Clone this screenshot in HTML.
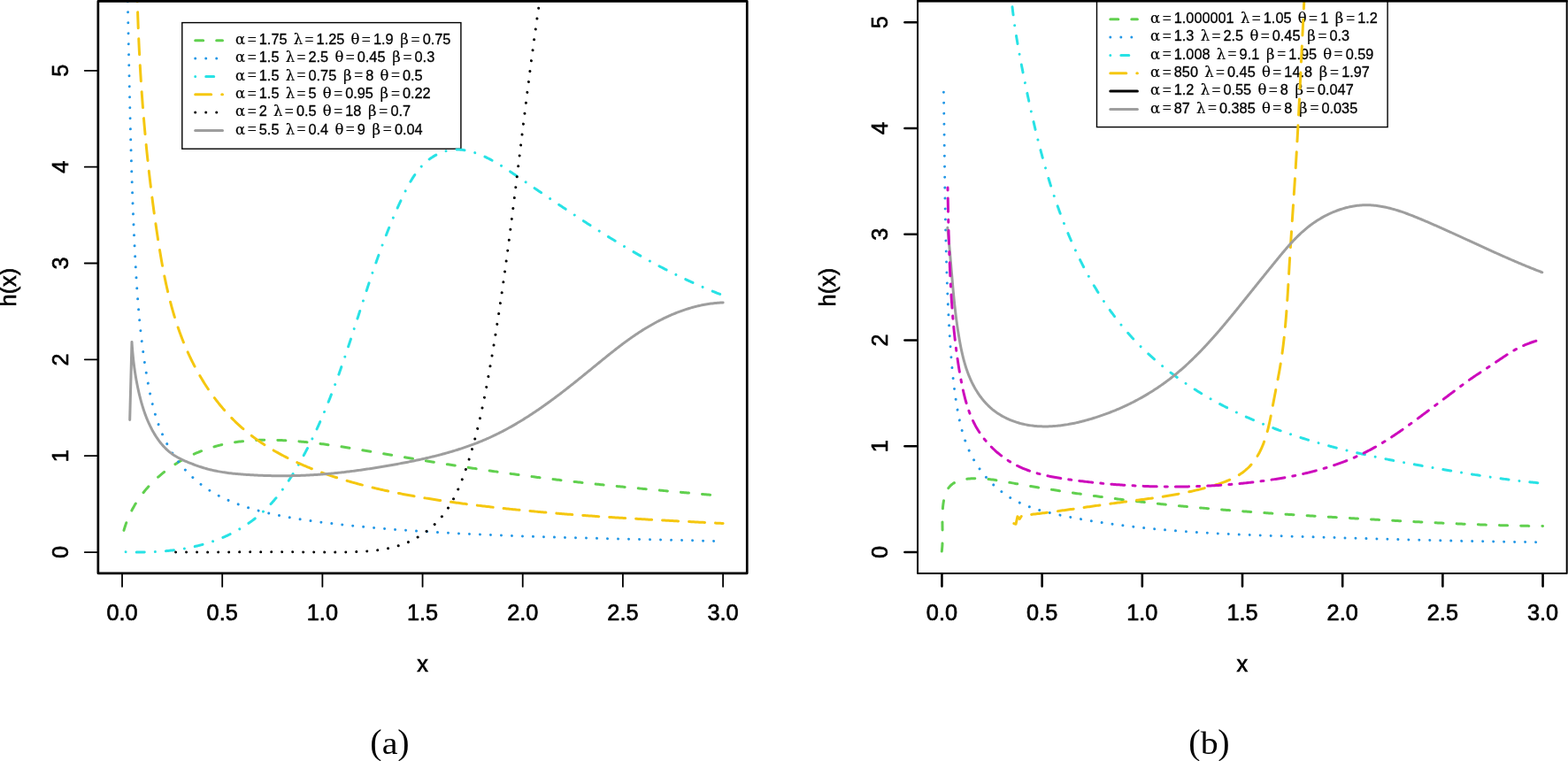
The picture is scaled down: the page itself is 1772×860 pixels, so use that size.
<!DOCTYPE html><html><head><meta charset="utf-8"><title>h(x) hazard plots</title><style>html,body{margin:0;padding:0;background:#fff;overflow:hidden}svg{display:block}</style></head><body>
<svg width="1772" height="860" viewBox="0 0 1772 860">
<rect width="1772" height="860" fill="#fff"/>
<defs><clipPath id="ca"><rect x="110.87" y="1.43" width="733.38" height="646.37"/></clipPath><clipPath id="cb"><rect x="1037.05" y="1.25" width="733.65" height="646.75"/></clipPath></defs>
<rect x="205.80" y="25.60" width="315.10" height="142.60" fill="none" stroke="#000" stroke-width="1.4"/>
<line x1="220.70" y1="45.80" x2="251.50" y2="45.80" stroke="#61D04F" stroke-width="3" stroke-linecap="round" stroke-dasharray="9 15"/>
<text x="271.47" y="50.00" text-anchor="middle" font-size="16.4" font-family="DejaVu Serif, Liberation Serif, serif" stroke="#000" stroke-width="0.2">α</text>
<text x="284.71" y="50.80" text-anchor="middle" font-size="18.5" font-family="Liberation Serif, serif">=</text>
<text x="292.80" y="50.00" font-size="16.3" font-family="Liberation Sans, Arial, sans-serif" stroke="#000" stroke-width="0.3">1.75</text>
<text x="336.93" y="50.00" text-anchor="middle" font-size="16.4" font-family="DejaVu Serif, Liberation Serif, serif" stroke="#000" stroke-width="0.2">λ</text>
<text x="349.49" y="50.80" text-anchor="middle" font-size="18.5" font-family="Liberation Serif, serif">=</text>
<text x="357.59" y="50.00" font-size="16.3" font-family="Liberation Sans, Arial, sans-serif" stroke="#000" stroke-width="0.3">1.25</text>
<text x="401.48" y="50.00" text-anchor="middle" font-size="16.4" font-family="DejaVu Serif, Liberation Serif, serif" stroke="#000" stroke-width="0.2">θ</text>
<text x="413.82" y="50.80" text-anchor="middle" font-size="18.5" font-family="Liberation Serif, serif">=</text>
<text x="421.91" y="50.00" font-size="16.3" font-family="Liberation Sans, Arial, sans-serif" stroke="#000" stroke-width="0.3">1.9</text>
<text x="456.97" y="50.00" text-anchor="middle" font-size="16.4" font-family="DejaVu Serif, Liberation Serif, serif" stroke="#000" stroke-width="0.2">β</text>
<text x="469.54" y="50.80" text-anchor="middle" font-size="18.5" font-family="Liberation Serif, serif">=</text>
<text x="477.64" y="50.00" font-size="16.3" font-family="Liberation Sans, Arial, sans-serif" stroke="#000" stroke-width="0.3">0.75</text>
<line x1="220.70" y1="66.12" x2="251.50" y2="66.12" stroke="#2297E6" stroke-width="3" stroke-linecap="round" stroke-dasharray="0.01 12"/>
<text x="271.47" y="70.32" text-anchor="middle" font-size="16.4" font-family="DejaVu Serif, Liberation Serif, serif" stroke="#000" stroke-width="0.2">α</text>
<text x="284.71" y="71.12" text-anchor="middle" font-size="18.5" font-family="Liberation Serif, serif">=</text>
<text x="292.80" y="70.32" font-size="16.3" font-family="Liberation Sans, Arial, sans-serif" stroke="#000" stroke-width="0.3">1.5</text>
<text x="327.86" y="70.32" text-anchor="middle" font-size="16.4" font-family="DejaVu Serif, Liberation Serif, serif" stroke="#000" stroke-width="0.2">λ</text>
<text x="340.43" y="71.12" text-anchor="middle" font-size="18.5" font-family="Liberation Serif, serif">=</text>
<text x="348.52" y="70.32" font-size="16.3" font-family="Liberation Sans, Arial, sans-serif" stroke="#000" stroke-width="0.3">2.5</text>
<text x="383.36" y="70.32" text-anchor="middle" font-size="16.4" font-family="DejaVu Serif, Liberation Serif, serif" stroke="#000" stroke-width="0.2">θ</text>
<text x="395.70" y="71.12" text-anchor="middle" font-size="18.5" font-family="Liberation Serif, serif">=</text>
<text x="403.79" y="70.32" font-size="16.3" font-family="Liberation Sans, Arial, sans-serif" stroke="#000" stroke-width="0.3">0.45</text>
<text x="447.91" y="70.32" text-anchor="middle" font-size="16.4" font-family="DejaVu Serif, Liberation Serif, serif" stroke="#000" stroke-width="0.2">β</text>
<text x="460.48" y="71.12" text-anchor="middle" font-size="18.5" font-family="Liberation Serif, serif">=</text>
<text x="468.57" y="70.32" font-size="16.3" font-family="Liberation Sans, Arial, sans-serif" stroke="#000" stroke-width="0.3">0.3</text>
<line x1="220.70" y1="86.44" x2="251.50" y2="86.44" stroke="#28E2E5" stroke-width="3" stroke-linecap="round" stroke-dasharray="0.01 12 9 12"/>
<text x="271.47" y="90.64" text-anchor="middle" font-size="16.4" font-family="DejaVu Serif, Liberation Serif, serif" stroke="#000" stroke-width="0.2">α</text>
<text x="284.71" y="91.44" text-anchor="middle" font-size="18.5" font-family="Liberation Serif, serif">=</text>
<text x="292.80" y="90.64" font-size="16.3" font-family="Liberation Sans, Arial, sans-serif" stroke="#000" stroke-width="0.3">1.5</text>
<text x="327.86" y="90.64" text-anchor="middle" font-size="16.4" font-family="DejaVu Serif, Liberation Serif, serif" stroke="#000" stroke-width="0.2">λ</text>
<text x="340.43" y="91.44" text-anchor="middle" font-size="18.5" font-family="Liberation Serif, serif">=</text>
<text x="348.52" y="90.64" font-size="16.3" font-family="Liberation Sans, Arial, sans-serif" stroke="#000" stroke-width="0.3">0.75</text>
<text x="392.65" y="90.64" text-anchor="middle" font-size="16.4" font-family="DejaVu Serif, Liberation Serif, serif" stroke="#000" stroke-width="0.2">β</text>
<text x="405.21" y="91.44" text-anchor="middle" font-size="18.5" font-family="Liberation Serif, serif">=</text>
<text x="413.31" y="90.64" font-size="16.3" font-family="Liberation Sans, Arial, sans-serif" stroke="#000" stroke-width="0.3">8</text>
<text x="434.55" y="90.64" text-anchor="middle" font-size="16.4" font-family="DejaVu Serif, Liberation Serif, serif" stroke="#000" stroke-width="0.2">θ</text>
<text x="446.89" y="91.44" text-anchor="middle" font-size="18.5" font-family="Liberation Serif, serif">=</text>
<text x="454.98" y="90.64" font-size="16.3" font-family="Liberation Sans, Arial, sans-serif" stroke="#000" stroke-width="0.3">0.5</text>
<line x1="220.70" y1="106.76" x2="251.50" y2="106.76" stroke="#F5C710" stroke-width="3" stroke-linecap="round" stroke-dasharray="18 12"/>
<text x="271.47" y="110.96" text-anchor="middle" font-size="16.4" font-family="DejaVu Serif, Liberation Serif, serif" stroke="#000" stroke-width="0.2">α</text>
<text x="284.71" y="111.76" text-anchor="middle" font-size="18.5" font-family="Liberation Serif, serif">=</text>
<text x="292.80" y="110.96" font-size="16.3" font-family="Liberation Sans, Arial, sans-serif" stroke="#000" stroke-width="0.3">1.5</text>
<text x="327.86" y="110.96" text-anchor="middle" font-size="16.4" font-family="DejaVu Serif, Liberation Serif, serif" stroke="#000" stroke-width="0.2">λ</text>
<text x="340.43" y="111.76" text-anchor="middle" font-size="18.5" font-family="Liberation Serif, serif">=</text>
<text x="348.52" y="110.96" font-size="16.3" font-family="Liberation Sans, Arial, sans-serif" stroke="#000" stroke-width="0.3">5</text>
<text x="369.76" y="110.96" text-anchor="middle" font-size="16.4" font-family="DejaVu Serif, Liberation Serif, serif" stroke="#000" stroke-width="0.2">θ</text>
<text x="382.10" y="111.76" text-anchor="middle" font-size="18.5" font-family="Liberation Serif, serif">=</text>
<text x="390.19" y="110.96" font-size="16.3" font-family="Liberation Sans, Arial, sans-serif" stroke="#000" stroke-width="0.3">0.95</text>
<text x="434.32" y="110.96" text-anchor="middle" font-size="16.4" font-family="DejaVu Serif, Liberation Serif, serif" stroke="#000" stroke-width="0.2">β</text>
<text x="446.89" y="111.76" text-anchor="middle" font-size="18.5" font-family="Liberation Serif, serif">=</text>
<text x="454.98" y="110.96" font-size="16.3" font-family="Liberation Sans, Arial, sans-serif" stroke="#000" stroke-width="0.3">0.22</text>
<line x1="220.70" y1="127.08" x2="251.50" y2="127.08" stroke="#000000" stroke-width="3" stroke-linecap="round" stroke-dasharray="0.01 12"/>
<text x="271.47" y="131.28" text-anchor="middle" font-size="16.4" font-family="DejaVu Serif, Liberation Serif, serif" stroke="#000" stroke-width="0.2">α</text>
<text x="284.71" y="132.08" text-anchor="middle" font-size="18.5" font-family="Liberation Serif, serif">=</text>
<text x="292.80" y="131.28" font-size="16.3" font-family="Liberation Sans, Arial, sans-serif" stroke="#000" stroke-width="0.3">2</text>
<text x="314.27" y="131.28" text-anchor="middle" font-size="16.4" font-family="DejaVu Serif, Liberation Serif, serif" stroke="#000" stroke-width="0.2">λ</text>
<text x="326.84" y="132.08" text-anchor="middle" font-size="18.5" font-family="Liberation Serif, serif">=</text>
<text x="334.93" y="131.28" font-size="16.3" font-family="Liberation Sans, Arial, sans-serif" stroke="#000" stroke-width="0.3">0.5</text>
<text x="369.76" y="131.28" text-anchor="middle" font-size="16.4" font-family="DejaVu Serif, Liberation Serif, serif" stroke="#000" stroke-width="0.2">θ</text>
<text x="382.10" y="132.08" text-anchor="middle" font-size="18.5" font-family="Liberation Serif, serif">=</text>
<text x="390.19" y="131.28" font-size="16.3" font-family="Liberation Sans, Arial, sans-serif" stroke="#000" stroke-width="0.3">18</text>
<text x="420.72" y="131.28" text-anchor="middle" font-size="16.4" font-family="DejaVu Serif, Liberation Serif, serif" stroke="#000" stroke-width="0.2">β</text>
<text x="433.29" y="132.08" text-anchor="middle" font-size="18.5" font-family="Liberation Serif, serif">=</text>
<text x="441.38" y="131.28" font-size="16.3" font-family="Liberation Sans, Arial, sans-serif" stroke="#000" stroke-width="0.3">0.7</text>
<line x1="220.70" y1="147.40" x2="251.50" y2="147.40" stroke="#9E9E9E" stroke-width="3" stroke-linecap="round"/>
<text x="271.47" y="151.60" text-anchor="middle" font-size="16.4" font-family="DejaVu Serif, Liberation Serif, serif" stroke="#000" stroke-width="0.2">α</text>
<text x="284.71" y="152.40" text-anchor="middle" font-size="18.5" font-family="Liberation Serif, serif">=</text>
<text x="292.80" y="151.60" font-size="16.3" font-family="Liberation Sans, Arial, sans-serif" stroke="#000" stroke-width="0.3">5.5</text>
<text x="327.86" y="151.60" text-anchor="middle" font-size="16.4" font-family="DejaVu Serif, Liberation Serif, serif" stroke="#000" stroke-width="0.2">λ</text>
<text x="340.43" y="152.40" text-anchor="middle" font-size="18.5" font-family="Liberation Serif, serif">=</text>
<text x="348.52" y="151.60" font-size="16.3" font-family="Liberation Sans, Arial, sans-serif" stroke="#000" stroke-width="0.3">0.4</text>
<text x="383.36" y="151.60" text-anchor="middle" font-size="16.4" font-family="DejaVu Serif, Liberation Serif, serif" stroke="#000" stroke-width="0.2">θ</text>
<text x="395.70" y="152.40" text-anchor="middle" font-size="18.5" font-family="Liberation Serif, serif">=</text>
<text x="403.79" y="151.60" font-size="16.3" font-family="Liberation Sans, Arial, sans-serif" stroke="#000" stroke-width="0.3">9</text>
<text x="425.26" y="151.60" text-anchor="middle" font-size="16.4" font-family="DejaVu Serif, Liberation Serif, serif" stroke="#000" stroke-width="0.2">β</text>
<text x="437.82" y="152.40" text-anchor="middle" font-size="18.5" font-family="Liberation Serif, serif">=</text>
<text x="445.92" y="151.60" font-size="16.3" font-family="Liberation Sans, Arial, sans-serif" stroke="#000" stroke-width="0.3">0.04</text>
<rect x="1239.50" y="1.30" width="328.60" height="142.30" fill="none" stroke="#000" stroke-width="1.4"/>
<line x1="1254.80" y1="21.80" x2="1285.40" y2="21.80" stroke="#61D04F" stroke-width="3" stroke-linecap="round" stroke-dasharray="9 15"/>
<text x="1305.44" y="26.00" text-anchor="middle" font-size="16.4" font-family="DejaVu Serif, Liberation Serif, serif" stroke="#000" stroke-width="0.2">α</text>
<text x="1318.68" y="26.80" text-anchor="middle" font-size="18.5" font-family="Liberation Serif, serif">=</text>
<text x="1326.77" y="26.00" font-size="16.3" font-family="Liberation Sans, Arial, sans-serif" stroke="#000" stroke-width="0.3">1.000001</text>
<text x="1407.15" y="26.00" text-anchor="middle" font-size="16.4" font-family="DejaVu Serif, Liberation Serif, serif" stroke="#000" stroke-width="0.2">λ</text>
<text x="1419.71" y="26.80" text-anchor="middle" font-size="18.5" font-family="Liberation Serif, serif">=</text>
<text x="1427.81" y="26.00" font-size="16.3" font-family="Liberation Sans, Arial, sans-serif" stroke="#000" stroke-width="0.3">1.05</text>
<text x="1471.70" y="26.00" text-anchor="middle" font-size="16.4" font-family="DejaVu Serif, Liberation Serif, serif" stroke="#000" stroke-width="0.2">θ</text>
<text x="1484.04" y="26.80" text-anchor="middle" font-size="18.5" font-family="Liberation Serif, serif">=</text>
<text x="1492.13" y="26.00" font-size="16.3" font-family="Liberation Sans, Arial, sans-serif" stroke="#000" stroke-width="0.3">1</text>
<text x="1513.60" y="26.00" text-anchor="middle" font-size="16.4" font-family="DejaVu Serif, Liberation Serif, serif" stroke="#000" stroke-width="0.2">β</text>
<text x="1526.17" y="26.80" text-anchor="middle" font-size="18.5" font-family="Liberation Serif, serif">=</text>
<text x="1534.26" y="26.00" font-size="16.3" font-family="Liberation Sans, Arial, sans-serif" stroke="#000" stroke-width="0.3">1.2</text>
<line x1="1254.80" y1="42.12" x2="1285.40" y2="42.12" stroke="#2297E6" stroke-width="3" stroke-linecap="round" stroke-dasharray="0.01 12"/>
<text x="1305.44" y="46.32" text-anchor="middle" font-size="16.4" font-family="DejaVu Serif, Liberation Serif, serif" stroke="#000" stroke-width="0.2">α</text>
<text x="1318.68" y="47.12" text-anchor="middle" font-size="18.5" font-family="Liberation Serif, serif">=</text>
<text x="1326.77" y="46.32" font-size="16.3" font-family="Liberation Sans, Arial, sans-serif" stroke="#000" stroke-width="0.3">1.3</text>
<text x="1361.83" y="46.32" text-anchor="middle" font-size="16.4" font-family="DejaVu Serif, Liberation Serif, serif" stroke="#000" stroke-width="0.2">λ</text>
<text x="1374.40" y="47.12" text-anchor="middle" font-size="18.5" font-family="Liberation Serif, serif">=</text>
<text x="1382.49" y="46.32" font-size="16.3" font-family="Liberation Sans, Arial, sans-serif" stroke="#000" stroke-width="0.3">2.5</text>
<text x="1417.33" y="46.32" text-anchor="middle" font-size="16.4" font-family="DejaVu Serif, Liberation Serif, serif" stroke="#000" stroke-width="0.2">θ</text>
<text x="1429.67" y="47.12" text-anchor="middle" font-size="18.5" font-family="Liberation Serif, serif">=</text>
<text x="1437.76" y="46.32" font-size="16.3" font-family="Liberation Sans, Arial, sans-serif" stroke="#000" stroke-width="0.3">0.45</text>
<text x="1481.88" y="46.32" text-anchor="middle" font-size="16.4" font-family="DejaVu Serif, Liberation Serif, serif" stroke="#000" stroke-width="0.2">β</text>
<text x="1494.45" y="47.12" text-anchor="middle" font-size="18.5" font-family="Liberation Serif, serif">=</text>
<text x="1502.54" y="46.32" font-size="16.3" font-family="Liberation Sans, Arial, sans-serif" stroke="#000" stroke-width="0.3">0.3</text>
<line x1="1254.80" y1="62.44" x2="1285.40" y2="62.44" stroke="#28E2E5" stroke-width="3" stroke-linecap="round" stroke-dasharray="0.01 12 9 12"/>
<text x="1305.44" y="66.64" text-anchor="middle" font-size="16.4" font-family="DejaVu Serif, Liberation Serif, serif" stroke="#000" stroke-width="0.2">α</text>
<text x="1318.68" y="67.44" text-anchor="middle" font-size="18.5" font-family="Liberation Serif, serif">=</text>
<text x="1326.77" y="66.64" font-size="16.3" font-family="Liberation Sans, Arial, sans-serif" stroke="#000" stroke-width="0.3">1.008</text>
<text x="1379.96" y="66.64" text-anchor="middle" font-size="16.4" font-family="DejaVu Serif, Liberation Serif, serif" stroke="#000" stroke-width="0.2">λ</text>
<text x="1392.53" y="67.44" text-anchor="middle" font-size="18.5" font-family="Liberation Serif, serif">=</text>
<text x="1400.62" y="66.64" font-size="16.3" font-family="Liberation Sans, Arial, sans-serif" stroke="#000" stroke-width="0.3">9.1</text>
<text x="1435.68" y="66.64" text-anchor="middle" font-size="16.4" font-family="DejaVu Serif, Liberation Serif, serif" stroke="#000" stroke-width="0.2">β</text>
<text x="1448.25" y="67.44" text-anchor="middle" font-size="18.5" font-family="Liberation Serif, serif">=</text>
<text x="1456.34" y="66.64" font-size="16.3" font-family="Liberation Sans, Arial, sans-serif" stroke="#000" stroke-width="0.3">1.95</text>
<text x="1500.24" y="66.64" text-anchor="middle" font-size="16.4" font-family="DejaVu Serif, Liberation Serif, serif" stroke="#000" stroke-width="0.2">θ</text>
<text x="1512.58" y="67.44" text-anchor="middle" font-size="18.5" font-family="Liberation Serif, serif">=</text>
<text x="1520.67" y="66.64" font-size="16.3" font-family="Liberation Sans, Arial, sans-serif" stroke="#000" stroke-width="0.3">0.59</text>
<line x1="1254.80" y1="82.76" x2="1285.40" y2="82.76" stroke="#F5C710" stroke-width="3" stroke-linecap="round" stroke-dasharray="18 12"/>
<text x="1305.44" y="86.96" text-anchor="middle" font-size="16.4" font-family="DejaVu Serif, Liberation Serif, serif" stroke="#000" stroke-width="0.2">α</text>
<text x="1318.68" y="87.76" text-anchor="middle" font-size="18.5" font-family="Liberation Serif, serif">=</text>
<text x="1326.77" y="86.96" font-size="16.3" font-family="Liberation Sans, Arial, sans-serif" stroke="#000" stroke-width="0.3">850</text>
<text x="1366.36" y="86.96" text-anchor="middle" font-size="16.4" font-family="DejaVu Serif, Liberation Serif, serif" stroke="#000" stroke-width="0.2">λ</text>
<text x="1378.93" y="87.76" text-anchor="middle" font-size="18.5" font-family="Liberation Serif, serif">=</text>
<text x="1387.02" y="86.96" font-size="16.3" font-family="Liberation Sans, Arial, sans-serif" stroke="#000" stroke-width="0.3">0.45</text>
<text x="1430.92" y="86.96" text-anchor="middle" font-size="16.4" font-family="DejaVu Serif, Liberation Serif, serif" stroke="#000" stroke-width="0.2">θ</text>
<text x="1443.26" y="87.76" text-anchor="middle" font-size="18.5" font-family="Liberation Serif, serif">=</text>
<text x="1451.35" y="86.96" font-size="16.3" font-family="Liberation Sans, Arial, sans-serif" stroke="#000" stroke-width="0.3">14.8</text>
<text x="1495.48" y="86.96" text-anchor="middle" font-size="16.4" font-family="DejaVu Serif, Liberation Serif, serif" stroke="#000" stroke-width="0.2">β</text>
<text x="1508.04" y="87.76" text-anchor="middle" font-size="18.5" font-family="Liberation Serif, serif">=</text>
<text x="1516.14" y="86.96" font-size="16.3" font-family="Liberation Sans, Arial, sans-serif" stroke="#000" stroke-width="0.3">1.97</text>
<line x1="1254.80" y1="103.08" x2="1285.40" y2="103.08" stroke="#000000" stroke-width="3" stroke-linecap="round"/>
<text x="1305.44" y="107.28" text-anchor="middle" font-size="16.4" font-family="DejaVu Serif, Liberation Serif, serif" stroke="#000" stroke-width="0.2">α</text>
<text x="1318.68" y="108.08" text-anchor="middle" font-size="18.5" font-family="Liberation Serif, serif">=</text>
<text x="1326.77" y="107.28" font-size="16.3" font-family="Liberation Sans, Arial, sans-serif" stroke="#000" stroke-width="0.3">1.2</text>
<text x="1361.83" y="107.28" text-anchor="middle" font-size="16.4" font-family="DejaVu Serif, Liberation Serif, serif" stroke="#000" stroke-width="0.2">λ</text>
<text x="1374.40" y="108.08" text-anchor="middle" font-size="18.5" font-family="Liberation Serif, serif">=</text>
<text x="1382.49" y="107.28" font-size="16.3" font-family="Liberation Sans, Arial, sans-serif" stroke="#000" stroke-width="0.3">0.55</text>
<text x="1426.39" y="107.28" text-anchor="middle" font-size="16.4" font-family="DejaVu Serif, Liberation Serif, serif" stroke="#000" stroke-width="0.2">θ</text>
<text x="1438.73" y="108.08" text-anchor="middle" font-size="18.5" font-family="Liberation Serif, serif">=</text>
<text x="1446.82" y="107.28" font-size="16.3" font-family="Liberation Sans, Arial, sans-serif" stroke="#000" stroke-width="0.3">8</text>
<text x="1468.29" y="107.28" text-anchor="middle" font-size="16.4" font-family="DejaVu Serif, Liberation Serif, serif" stroke="#000" stroke-width="0.2">β</text>
<text x="1480.86" y="108.08" text-anchor="middle" font-size="18.5" font-family="Liberation Serif, serif">=</text>
<text x="1488.95" y="107.28" font-size="16.3" font-family="Liberation Sans, Arial, sans-serif" stroke="#000" stroke-width="0.3">0.047</text>
<line x1="1254.80" y1="123.40" x2="1285.40" y2="123.40" stroke="#9E9E9E" stroke-width="3" stroke-linecap="round"/>
<text x="1305.44" y="127.60" text-anchor="middle" font-size="16.4" font-family="DejaVu Serif, Liberation Serif, serif" stroke="#000" stroke-width="0.2">α</text>
<text x="1318.68" y="128.40" text-anchor="middle" font-size="18.5" font-family="Liberation Serif, serif">=</text>
<text x="1326.77" y="127.60" font-size="16.3" font-family="Liberation Sans, Arial, sans-serif" stroke="#000" stroke-width="0.3">87</text>
<text x="1357.30" y="127.60" text-anchor="middle" font-size="16.4" font-family="DejaVu Serif, Liberation Serif, serif" stroke="#000" stroke-width="0.2">λ</text>
<text x="1369.87" y="128.40" text-anchor="middle" font-size="18.5" font-family="Liberation Serif, serif">=</text>
<text x="1377.96" y="127.60" font-size="16.3" font-family="Liberation Sans, Arial, sans-serif" stroke="#000" stroke-width="0.3">0.385</text>
<text x="1430.92" y="127.60" text-anchor="middle" font-size="16.4" font-family="DejaVu Serif, Liberation Serif, serif" stroke="#000" stroke-width="0.2">θ</text>
<text x="1443.26" y="128.40" text-anchor="middle" font-size="18.5" font-family="Liberation Serif, serif">=</text>
<text x="1451.35" y="127.60" font-size="16.3" font-family="Liberation Sans, Arial, sans-serif" stroke="#000" stroke-width="0.3">8</text>
<text x="1472.82" y="127.60" text-anchor="middle" font-size="16.4" font-family="DejaVu Serif, Liberation Serif, serif" stroke="#000" stroke-width="0.2">β</text>
<text x="1485.39" y="128.40" text-anchor="middle" font-size="18.5" font-family="Liberation Serif, serif">=</text>
<text x="1493.48" y="127.60" font-size="16.3" font-family="Liberation Sans, Arial, sans-serif" stroke="#000" stroke-width="0.3">0.035</text>
<path d="M139.98,599.40L140.41,597.93L140.85,596.46L141.32,595.00L141.80,593.55L142.29,592.11L142.81,590.67L143.34,589.25L143.89,587.84L144.46,586.43L145.04,585.04L145.65,583.65L146.26,582.28L146.90,580.91L147.55,579.56L148.22,578.21L148.90,576.88L149.60,575.55L150.32,574.23L151.05,572.93L151.79,571.63L152.55,570.34L153.33,569.07L154.12,567.80L154.93,566.54L155.75,565.29L156.58,564.06L157.43,562.83L158.30,561.62L159.18,560.41L160.07,559.21L160.97,558.03L161.89,556.85L162.82,555.69L163.77,554.54L164.72,553.39L165.70,552.26L166.68,551.14L167.67,550.03L168.68,548.92L169.70,547.83L170.73,546.75L171.78,545.69L172.83,544.63L173.90,543.58L174.98,542.54L176.07,541.52L177.17,540.51L178.28,539.50L179.40,538.51L180.54,537.53L181.68,536.56L182.83,535.60L184.00,534.65L185.17,533.72L186.35,532.79L187.54,531.88L188.75,530.98L189.96,530.09L191.18,529.21L192.41,528.34L193.64,527.48L194.89,526.64L196.14,525.81L197.41,524.98L198.68,524.17L199.96,523.38L201.24,522.59L202.54,521.82L203.84,521.05L205.15,520.30L206.46,519.57L207.79,518.84L209.11,518.12L210.45,517.42L211.79,516.73L213.14,516.05L214.50,515.39L215.86,514.73L217.22,514.09L218.60,513.46L219.97,512.85L221.36,512.24L222.75,511.65L224.14,511.07L225.54,510.50L226.94,509.95L228.35,509.41L229.76,508.88L231.17,508.36L232.59,507.86L234.02,507.36L235.44,506.89L236.87,506.42L238.31,505.97L239.74,505.53L241.18,505.10L242.63,504.69L244.07,504.29L245.52,503.90L246.97,503.52L248.43,503.16L249.88,502.81L251.34,502.47L252.80,502.14L254.26,501.83L255.73,501.53L257.20,501.23L258.67,500.95L260.14,500.69L261.61,500.43L263.09,500.18L264.57,499.95L266.05,499.72L267.53,499.51L269.01,499.31L270.50,499.11L271.99,498.93L273.47,498.76L274.96,498.60L276.46,498.44L277.95,498.30L279.44,498.17L280.94,498.04L282.43,497.93L283.93,497.82L285.43,497.73L286.93,497.64L288.43,497.56L289.93,497.49L291.44,497.42L292.94,497.37L294.45,497.32L295.95,497.29L297.46,497.26L298.96,497.23L300.47,497.22L301.98,497.21L303.49,497.21L305.00,497.22L306.50,497.23L308.01,497.25L309.52,497.28L311.03,497.31L312.54,497.35L314.05,497.40L315.56,497.45L317.07,497.51L318.58,497.58L320.09,497.65L321.60,497.72L323.11,497.81L324.61,497.89L326.12,497.99L327.63,498.08L329.14,498.18L330.64,498.29L332.15,498.40L333.65,498.52L335.16,498.64L336.66,498.76L338.16,498.89L339.66,499.02L341.16,499.16L342.67,499.30L344.17,499.45L345.67,499.60L347.16,499.75L348.66,499.91L350.16,500.07L351.66,500.23L353.16,500.40L354.65,500.57L356.15,500.75L357.64,500.93L359.14,501.11L360.63,501.29L362.13,501.48L363.62,501.67L365.11,501.86L366.61,502.06L368.10,502.26L369.59,502.46L371.08,502.67L372.57,502.88L374.06,503.09L375.55,503.30L377.04,503.51L378.53,503.73L380.02,503.95L381.51,504.17L383.00,504.40L384.49,504.63L385.97,504.85L387.46,505.08L388.95,505.32L390.43,505.55L391.92,505.79L393.41,506.02L394.89,506.26L396.38,506.50L397.87,506.74L399.35,506.99L400.84,507.23L402.32,507.48L403.81,507.72L405.29,507.97L406.78,508.22L408.26,508.47L409.74,508.72L411.23,508.97L412.71,509.22L414.20,509.47L415.68,509.73L417.16,509.98L418.65,510.23L420.13,510.49L421.62,510.74L423.10,511.00L424.58,511.25L426.07,511.51L427.55,511.76L429.03,512.02L430.52,512.27L432.00,512.53L433.48,512.78L434.97,513.03L436.45,513.29L437.94,513.54L439.42,513.79L440.90,514.05L442.39,514.30L443.87,514.55L445.35,514.80L446.84,515.05L448.32,515.30L449.81,515.56L451.29,515.81L452.77,516.06L454.26,516.30L455.74,516.55L457.23,516.80L458.71,517.05L460.19,517.30L461.68,517.55L463.16,517.79L464.65,518.04L466.13,518.29L467.62,518.53L469.10,518.78L470.59,519.03L472.07,519.27L473.56,519.52L475.04,519.76L476.52,520.00L478.01,520.25L479.49,520.49L480.98,520.73L482.46,520.98L483.95,521.22L485.43,521.46L486.92,521.70L488.40,521.94L489.89,522.18L491.38,522.42L492.86,522.66L494.35,522.90L495.83,523.14L497.32,523.37L498.80,523.61L500.29,523.85L501.77,524.08L503.26,524.32L504.75,524.56L506.23,524.79L507.72,525.03L509.20,525.26L510.69,525.49L512.18,525.73L513.66,525.96L515.15,526.19L516.64,526.42L518.12,526.65L519.61,526.88L521.09,527.11L522.58,527.34L524.07,527.57L525.56,527.80L527.04,528.03L528.53,528.25L530.02,528.48L531.50,528.71L532.99,528.93L534.48,529.16L535.97,529.38L537.45,529.60L538.94,529.83L540.43,530.05L541.92,530.27L543.40,530.49L544.89,530.71L546.38,530.93L547.87,531.15L549.36,531.37L550.84,531.59L552.33,531.81L553.82,532.02L555.31,532.24L556.80,532.46L558.29,532.67L559.77,532.89L561.26,533.10L562.75,533.31L564.24,533.53L565.73,533.74L567.22,533.95L568.71,534.16L570.20,534.37L571.69,534.58L573.18,534.79L574.67,535.00L576.16,535.20L577.65,535.41L579.14,535.62L580.63,535.82L582.12,536.03L583.61,536.23L585.10,536.43L586.59,536.63L588.08,536.84L589.57,537.04L591.06,537.24L592.55,537.44L594.04,537.64L595.53,537.83L597.03,538.03L598.52,538.23L600.01,538.42L601.50,538.62L602.99,538.81L604.48,539.01L605.98,539.20L607.47,539.39L608.96,539.58L610.45,539.77L611.95,539.96L613.44,540.15L614.93,540.34L616.42,540.53L617.92,540.71L619.41,540.90L620.90,541.08L622.40,541.27L623.89,541.45L625.38,541.63L626.88,541.81L628.37,541.99L629.86,542.17L631.36,542.35L632.85,542.53L634.35,542.71L635.84,542.89L637.34,543.06L638.83,543.24L640.32,543.41L641.82,543.58L643.31,543.76L644.81,543.93L646.31,544.10L647.80,544.27L649.30,544.44L650.79,544.61L652.29,544.77L653.78,544.94L655.28,545.11L656.78,545.27L658.27,545.44L659.77,545.60L661.26,545.77L662.76,545.93L664.26,546.09L665.75,546.25L667.25,546.41L668.75,546.57L670.24,546.73L671.74,546.89L673.24,547.05L674.74,547.21L676.23,547.36L677.73,547.52L679.23,547.68L680.72,547.83L682.22,547.99L683.72,548.14L685.22,548.29L686.72,548.45L688.21,548.60L689.71,548.75L691.21,548.90L692.71,549.05L694.21,549.20L695.70,549.35L697.20,549.50L698.70,549.65L700.20,549.80L701.70,549.95L703.20,550.10L704.69,550.24L706.19,550.39L707.69,550.54L709.19,550.68L710.69,550.83L712.19,550.97L713.69,551.12L715.18,551.26L716.68,551.40L718.18,551.55L719.68,551.69L721.18,551.83L722.68,551.98L724.18,552.12L725.68,552.26L727.18,552.40L728.68,552.54L730.17,552.68L731.67,552.82L733.17,552.96L734.67,553.10L736.17,553.24L737.67,553.38L739.17,553.52L740.67,553.66L742.17,553.80L743.67,553.94L745.17,554.07L746.66,554.21L748.16,554.35L749.66,554.49L751.16,554.62L752.66,554.76L754.16,554.90L755.66,555.03L757.16,555.17L758.66,555.31L760.16,555.44L761.66,555.58L763.16,555.72L764.65,555.85L766.15,555.99L767.65,556.12L769.15,556.26L770.65,556.39L772.15,556.53L773.65,556.66L775.15,556.80L776.65,556.94L778.15,557.07L779.64,557.21L781.14,557.34L782.64,557.48L784.14,557.61L785.64,557.75L787.14,557.88L788.64,558.02L790.14,558.15L791.63,558.29L793.13,558.42L794.63,558.56L796.13,558.69L797.63,558.83L799.13,558.97L800.62,559.10L802.12,559.24L803.62,559.37L805.12,559.51L806.62,559.65L808.11,559.78L809.61,559.92L811.11,560.05L812.61,560.19L814.10,560.33L815.60,560.47L817.10,560.60" fill="none" stroke="#61D04F" stroke-width="3" stroke-linecap="round" stroke-linejoin="round" stroke-dasharray="9 15" pathLength="719.500" clip-path="url(#ca)"/>
<path d="M144.00,-12.00L144.03,-10.50L144.07,-9.00L144.10,-7.50L144.13,-6.00L144.16,-4.51L144.19,-3.01L144.22,-1.51L144.26,-0.01L144.29,1.49L144.32,2.99L144.35,4.49L144.38,5.99L144.41,7.49L144.44,8.99L144.48,10.49L144.51,11.99L144.54,13.49L144.57,14.99L144.60,16.49L144.63,17.99L144.66,19.49L144.69,20.99L144.72,22.49L144.75,23.99L144.78,25.49L144.81,26.99L144.84,28.49L144.87,29.99L144.91,31.49L144.94,32.99L144.97,34.49L145.00,36.00L145.03,37.50L145.06,39.00L145.09,40.50L145.12,42.00L145.15,43.50L145.18,45.00L145.21,46.51L145.24,48.01L145.27,49.51L145.30,51.01L145.33,52.51L145.36,54.01L145.39,55.52L145.42,57.02L145.45,58.52L145.48,60.02L145.51,61.53L145.54,63.03L145.57,64.53L145.61,66.03L145.64,67.54L145.67,69.04L145.70,70.54L145.73,72.04L145.76,73.55L145.79,75.05L145.82,76.55L145.85,78.05L145.89,79.56L145.92,81.06L145.95,82.56L145.98,84.06L146.01,85.57L146.04,87.07L146.08,88.57L146.11,90.08L146.14,91.58L146.17,93.08L146.20,94.59L146.24,96.09L146.27,97.59L146.30,99.10L146.34,100.60L146.37,102.10L146.40,103.61L146.43,105.11L146.47,106.61L146.50,108.11L146.54,109.62L146.57,111.12L146.60,112.62L146.64,114.13L146.67,115.63L146.71,117.13L146.74,118.64L146.78,120.14L146.81,121.64L146.85,123.15L146.88,124.65L146.92,126.15L146.95,127.66L146.99,129.16L147.02,130.66L147.06,132.17L147.10,133.67L147.13,135.17L147.17,136.68L147.21,138.18L147.25,139.68L147.28,141.19L147.32,142.69L147.36,144.19L147.40,145.70L147.44,147.20L147.48,148.70L147.51,150.21L147.55,151.71L147.59,153.21L147.63,154.72L147.67,156.22L147.71,157.72L147.75,159.23L147.79,160.73L147.84,162.23L147.88,163.73L147.92,165.24L147.96,166.74L148.00,168.24L148.04,169.75L148.09,171.25L148.13,172.75L148.17,174.25L148.22,175.76L148.26,177.26L148.31,178.76L148.35,180.26L148.39,181.77L148.44,183.27L148.49,184.77L148.53,186.27L148.58,187.78L148.62,189.28L148.67,190.78L148.72,192.28L148.76,193.78L148.81,195.29L148.86,196.79L148.91,198.29L148.96,199.79L149.01,201.29L149.06,202.79L149.11,204.30L149.16,205.80L149.21,207.30L149.26,208.80L149.31,210.30L149.36,211.80L149.41,213.30L149.47,214.81L149.52,216.31L149.57,217.81L149.63,219.31L149.68,220.81L149.73,222.31L149.79,223.81L149.84,225.31L149.90,226.81L149.96,228.31L150.01,229.81L150.07,231.31L150.13,232.81L150.18,234.31L150.24,235.81L150.30,237.31L150.36,238.81L150.42,240.31L150.48,241.81L150.54,243.31L150.60,244.81L150.66,246.31L150.72,247.81L150.79,249.31L150.85,250.80L150.91,252.30L150.98,253.80L151.04,255.30L151.10,256.80L151.17,258.30L151.23,259.80L151.30,261.29L151.37,262.79L151.43,264.29L151.50,265.79L151.57,267.28L151.64,268.78L151.71,270.28L151.78,271.78L151.85,273.27L151.92,274.77L151.99,276.27L152.06,277.76L152.13,279.26L152.20,280.76L152.28,282.25L152.35,283.75L152.43,285.25L152.50,286.74L152.58,288.24L152.65,289.73L152.73,291.23L152.81,292.72L152.89,294.22L152.96,295.71L153.04,297.21L153.12,298.71L153.21,300.20L153.29,301.69L153.37,303.19L153.46,304.68L153.54,306.18L153.63,307.67L153.71,309.17L153.80,310.66L153.89,312.16L153.98,313.65L154.07,315.14L154.17,316.64L154.26,318.13L154.36,319.63L154.45,321.12L154.55,322.61L154.65,324.11L154.75,325.60L154.85,327.10L154.95,328.59L155.06,330.08L155.16,331.58L155.27,333.07L155.38,334.56L155.49,336.06L155.60,337.55L155.72,339.04L155.83,340.54L155.95,342.03L156.07,343.53L156.19,345.02L156.31,346.51L156.43,348.01L156.56,349.50L156.69,350.99L156.82,352.49L156.95,353.98L157.08,355.47L157.21,356.97L157.35,358.46L157.49,359.95L157.63,361.45L157.77,362.94L157.92,364.44L158.07,365.93L158.21,367.42L158.37,368.92L158.52,370.41L158.68,371.91L158.83,373.40L158.99,374.89L159.16,376.39L159.32,377.88L159.49,379.38L159.66,380.87L159.83,382.37L160.00,383.86L160.18,385.36L160.36,386.85L160.54,388.35L160.73,389.84L160.91,391.34L161.10,392.83L161.30,394.33L161.49,395.82L161.69,397.32L161.89,398.81L162.09,400.31L162.30,401.81L162.51,403.30L162.72,404.80L162.93,406.29L163.15,407.79L163.37,409.29L163.60,410.78L163.82,412.28L164.05,413.78L164.28,415.28L164.52,416.77L164.76,418.27L165.00,419.77L165.24,421.27L165.49,422.76L165.74,424.26L166.00,425.76L166.26,427.26L166.52,428.76L166.78,430.26L167.05,431.76L167.32,433.25L167.60,434.75L167.88,436.25L168.16,437.75L168.45,439.24L168.75,440.74L169.05,442.23L169.35,443.72L169.67,445.21L169.98,446.70L170.30,448.19L170.63,449.68L170.97,451.16L171.31,452.64L171.66,454.12L172.01,455.60L172.38,457.07L172.75,458.54L173.12,460.01L173.51,461.48L173.90,462.94L174.30,464.40L174.71,465.85L175.13,467.30L175.56,468.75L175.99,470.20L176.44,471.64L176.89,473.07L177.36,474.50L177.83,475.93L178.31,477.35L178.81,478.77L179.31,480.18L179.83,481.59L180.35,482.99L180.89,484.39L181.44,485.78L182.00,487.17L182.57,488.55L183.15,489.92L183.74,491.29L184.35,492.65L184.97,494.00L185.60,495.35L186.24,496.69L186.90,498.03L187.57,499.36L188.25,500.68L188.95,501.99L189.66,503.30L190.38,504.60L191.11,505.89L191.86,507.17L192.62,508.45L193.39,509.71L194.17,510.97L194.97,512.22L195.78,513.46L196.60,514.70L197.43,515.92L198.28,517.14L199.13,518.35L200.00,519.54L200.88,520.73L201.78,521.91L202.68,523.08L203.60,524.24L204.52,525.39L205.46,526.53L206.41,527.66L207.38,528.78L208.35,529.89L209.33,530.98L210.33,532.07L211.34,533.15L212.36,534.21L213.39,535.27L214.43,536.31L215.48,537.34L216.54,538.37L217.62,539.37L218.70,540.37L219.80,541.36L220.90,542.33L222.02,543.29L223.14,544.24L224.28,545.18L225.43,546.10L226.59,547.01L227.76,547.91L228.93,548.79L230.12,549.66L231.32,550.52L232.53,551.37L233.75,552.20L234.98,553.02L236.22,553.82L237.47,554.61L238.72,555.39L239.99,556.16L241.26,556.91L242.55,557.66L243.84,558.39L245.14,559.10L246.45,559.81L247.76,560.50L249.09,561.18L250.42,561.85L251.76,562.51L253.10,563.16L254.46,563.80L255.82,564.42L257.18,565.04L258.56,565.64L259.94,566.24L261.32,566.82L262.72,567.39L264.11,567.96L265.52,568.51L266.93,569.06L268.34,569.59L269.76,570.11L271.18,570.63L272.61,571.14L274.05,571.63L275.48,572.12L276.92,572.60L278.37,573.07L279.82,573.54L281.27,573.99L282.73,574.44L284.19,574.88L285.65,575.31L287.12,575.73L288.59,576.15L290.06,576.56L291.53,576.96L293.01,577.35L294.49,577.74L295.97,578.12L297.45,578.49L298.93,578.86L300.42,579.22L301.90,579.58L303.39,579.93L304.88,580.27L306.36,580.61L307.85,580.94L309.34,581.27L310.83,581.59L312.32,581.90L313.81,582.21L315.29,582.52L316.78,582.82L318.27,583.12L319.76,583.41L321.25,583.69L322.73,583.98L324.22,584.25L325.71,584.53L327.20,584.80L328.68,585.06L330.17,585.32L331.66,585.58L333.15,585.83L334.63,586.08L336.12,586.33L337.61,586.57L339.10,586.80L340.58,587.04L342.07,587.27L343.56,587.49L345.04,587.72L346.53,587.94L348.02,588.15L349.51,588.37L350.99,588.58L352.48,588.78L353.97,588.99L355.46,589.19L356.94,589.39L358.43,589.59L359.92,589.78L361.41,589.97L362.89,590.16L364.38,590.35L365.87,590.53L367.36,590.71L368.85,590.89L370.33,591.07L371.82,591.25L373.31,591.42L374.80,591.59L376.29,591.76L377.78,591.93L379.27,592.10L380.76,592.27L382.25,592.43L383.73,592.59L385.22,592.75L386.71,592.91L388.20,593.07L389.69,593.23L391.19,593.39L392.68,593.54L394.17,593.70L395.66,593.85L397.15,594.00L398.64,594.15L400.13,594.30L401.62,594.45L403.11,594.60L404.61,594.74L406.10,594.89L407.59,595.03L409.08,595.17L410.57,595.31L412.07,595.45L413.56,595.59L415.05,595.73L416.55,595.87L418.04,596.00L419.53,596.14L421.03,596.27L422.52,596.40L424.01,596.53L425.51,596.66L427.00,596.79L428.49,596.92L429.99,597.04L431.48,597.17L432.98,597.29L434.47,597.42L435.97,597.54L437.46,597.66L438.96,597.78L440.45,597.90L441.95,598.02L443.44,598.14L444.94,598.25L446.43,598.37L447.93,598.48L449.42,598.59L450.92,598.71L452.42,598.82L453.91,598.93L455.41,599.04L456.90,599.15L458.40,599.25L459.90,599.36L461.39,599.47L462.89,599.57L464.39,599.68L465.88,599.78L467.38,599.88L468.88,599.98L470.38,600.08L471.87,600.18L473.37,600.28L474.87,600.38L476.37,600.48L477.86,600.57L479.36,600.67L480.86,600.76L482.36,600.86L483.85,600.95L485.35,601.04L486.85,601.13L488.35,601.22L489.85,601.31L491.35,601.40L492.84,601.49L494.34,601.58L495.84,601.66L497.34,601.75L498.84,601.84L500.34,601.92L501.84,602.01L503.33,602.09L504.83,602.17L506.33,602.25L507.83,602.33L509.33,602.41L510.83,602.49L512.33,602.57L513.83,602.65L515.33,602.73L516.83,602.81L518.33,602.88L519.83,602.96L521.33,603.04L522.83,603.11L524.33,603.18L525.83,603.26L527.33,603.33L528.83,603.40L530.33,603.48L531.83,603.55L533.33,603.62L534.83,603.69L536.33,603.76L537.83,603.83L539.33,603.90L540.83,603.96L542.33,604.03L543.83,604.10L545.33,604.16L546.83,604.23L548.33,604.30L549.83,604.36L551.33,604.42L552.83,604.49L554.33,604.55L555.83,604.61L557.33,604.68L558.83,604.74L560.33,604.80L561.83,604.86L563.33,604.92L564.83,604.98L566.34,605.04L567.84,605.10L569.34,605.16L570.84,605.22L572.34,605.27L573.84,605.33L575.34,605.39L576.84,605.44L578.34,605.50L579.84,605.56L581.35,605.61L582.85,605.66L584.35,605.72L585.85,605.77L587.35,605.83L588.85,605.88L590.35,605.93L591.85,605.98L593.36,606.04L594.86,606.09L596.36,606.14L597.86,606.19L599.36,606.24L600.86,606.29L602.36,606.34L603.87,606.39L605.37,606.44L606.87,606.48L608.37,606.53L609.87,606.58L611.37,606.63L612.87,606.67L614.38,606.72L615.88,606.77L617.38,606.81L618.88,606.86L620.38,606.90L621.88,606.95L623.39,606.99L624.89,607.04L626.39,607.08L627.89,607.13L629.39,607.17L630.90,607.21L632.40,607.26L633.90,607.30L635.40,607.34L636.90,607.38L638.41,607.42L639.91,607.47L641.41,607.51L642.91,607.55L644.41,607.59L645.91,607.63L647.42,607.67L648.92,607.71L650.42,607.75L651.92,607.79L653.42,607.83L654.93,607.87L656.43,607.91L657.93,607.95L659.43,607.99L660.94,608.02L662.44,608.06L663.94,608.10L665.44,608.14L666.94,608.17L668.45,608.21L669.95,608.25L671.45,608.29L672.95,608.32L674.45,608.36L675.96,608.40L677.46,608.43L678.96,608.47L680.46,608.51L681.96,608.54L683.47,608.58L684.97,608.61L686.47,608.65L687.97,608.68L689.47,608.72L690.98,608.75L692.48,608.79L693.98,608.82L695.48,608.86L696.99,608.89L698.49,608.93L699.99,608.96L701.49,609.00L702.99,609.03L704.50,609.07L706.00,609.10L707.50,609.13L709.00,609.17L710.50,609.20L712.01,609.24L713.51,609.27L715.01,609.30L716.51,609.34L718.01,609.37L719.52,609.40L721.02,609.44L722.52,609.47L724.02,609.50L725.52,609.54L727.02,609.57L728.53,609.60L730.03,609.64L731.53,609.67L733.03,609.71L734.53,609.74L736.04,609.77L737.54,609.81L739.04,609.84L740.54,609.87L742.04,609.91L743.54,609.94L745.05,609.97L746.55,610.01L748.05,610.04L749.55,610.07L751.05,610.11L752.55,610.14L754.06,610.18L755.56,610.21L757.06,610.24L758.56,610.28L760.06,610.31L761.56,610.35L763.07,610.38L764.57,610.41L766.07,610.45L767.57,610.48L769.07,610.52L770.57,610.55L772.07,610.59L773.58,610.62L775.08,610.66L776.58,610.69L778.08,610.73L779.58,610.76L781.08,610.80L782.58,610.83L784.08,610.87L785.58,610.91L787.09,610.94L788.59,610.98L790.09,611.01L791.59,611.05L793.09,611.09L794.59,611.13L796.09,611.16L797.59,611.20L799.09,611.24L800.59,611.27L802.09,611.31L803.59,611.35L805.10,611.39L806.60,611.43L808.10,611.47L809.60,611.50L811.10,611.54L812.60,611.58L814.10,611.62L815.60,611.66L817.10,611.70" fill="none" stroke="#2297E6" stroke-width="3" stroke-linecap="round" stroke-linejoin="round" stroke-dasharray="0.01 12" stroke-dashoffset="10.267" clip-path="url(#ca)"/>
<path d="M142.10,623.80L143.59,623.84L145.08,623.89L146.57,623.92L148.07,623.95L149.56,623.98L151.06,624.00L152.55,624.02L154.05,624.03L155.55,624.03L157.05,624.03L158.56,624.03L160.06,624.02L161.56,624.00L163.07,623.98L164.57,623.95L166.07,623.91L167.58,623.87L169.09,623.82L170.59,623.77L172.10,623.71L173.60,623.64L175.11,623.57L176.61,623.49L178.12,623.40L179.62,623.30L181.13,623.20L182.63,623.09L184.14,622.97L185.64,622.85L187.14,622.72L188.64,622.58L190.14,622.43L191.64,622.27L193.14,622.11L194.64,621.94L196.13,621.76L197.63,621.57L199.12,621.37L200.61,621.16L202.10,620.95L203.59,620.73L205.08,620.49L206.56,620.25L208.04,620.00L209.52,619.74L211.00,619.47L212.48,619.19L213.95,618.91L215.42,618.61L216.89,618.30L218.36,617.98L219.82,617.65L221.28,617.32L222.74,616.97L224.20,616.61L225.65,616.24L227.10,615.86L228.54,615.47L229.98,615.07L231.42,614.66L232.86,614.24L234.29,613.80L235.72,613.36L237.14,612.90L238.57,612.43L239.98,611.95L241.40,611.46L242.80,610.96L244.21,610.45L245.61,609.92L247.01,609.38L248.40,608.83L249.79,608.27L251.17,607.69L252.55,607.11L253.92,606.51L255.29,605.89L256.65,605.27L258.01,604.63L259.36,603.98L260.71,603.31L262.05,602.64L263.39,601.95L264.72,601.24L266.05,600.53L267.36,599.80L268.68,599.06L269.98,598.31L271.28,597.55L272.57,596.77L273.86,595.98L275.14,595.18L276.41,594.37L277.67,593.55L278.92,592.71L280.17,591.86L281.41,591.00L282.64,590.13L283.86,589.25L285.08,588.36L286.28,587.45L287.48,586.53L288.67,585.61L289.85,584.67L291.01,583.71L292.17,582.75L293.32,581.78L294.46,580.80L295.59,579.80L296.71,578.80L297.82,577.78L298.92,576.75L300.01,575.71L301.08,574.66L302.15,573.61L303.20,572.54L304.24,571.46L305.28,570.37L306.30,569.27L307.31,568.16L308.31,567.04L309.30,565.91L310.27,564.77L311.24,563.62L312.20,562.47L313.15,561.31L314.09,560.14L315.02,558.96L315.95,557.77L316.86,556.58L317.76,555.38L318.66,554.17L319.55,552.96L320.43,551.74L321.30,550.51L322.16,549.28L323.02,548.04L323.87,546.80L324.71,545.55L325.55,544.30L326.38,543.04L327.20,541.78L328.01,540.52L328.82,539.25L329.63,537.97L330.43,536.70L331.22,535.42L332.01,534.14L332.79,532.85L333.57,531.56L334.34,530.27L335.11,528.98L335.87,527.68L336.63,526.39L337.38,525.09L338.13,523.79L338.87,522.48L339.61,521.17L340.34,519.87L341.07,518.55L341.80,517.24L342.52,515.93L343.24,514.61L343.95,513.29L344.66,511.97L345.36,510.64L346.06,509.32L346.75,507.99L347.44,506.66L348.13,505.33L348.81,503.99L349.49,502.66L350.16,501.32L350.83,499.98L351.50,498.63L352.16,497.29L352.82,495.94L353.47,494.60L354.12,493.25L354.77,491.90L355.41,490.54L356.05,489.19L356.69,487.83L357.32,486.47L357.95,485.11L358.57,483.75L359.19,482.38L359.81,481.02L360.42,479.65L361.03,478.28L361.64,476.91L362.25,475.54L362.85,474.17L363.44,472.79L364.04,471.42L364.63,470.04L365.22,468.66L365.80,467.28L366.38,465.89L366.96,464.51L367.54,463.13L368.11,461.74L368.68,460.35L369.25,458.96L369.81,457.57L370.37,456.18L370.93,454.78L371.49,453.39L372.04,451.99L372.59,450.60L373.14,449.20L373.68,447.80L374.23,446.40L374.77,445.00L375.31,443.59L375.84,442.19L376.37,440.78L376.91,439.38L377.43,437.97L377.96,436.56L378.48,435.15L379.01,433.74L379.53,432.33L380.04,430.92L380.56,429.51L381.07,428.09L381.58,426.68L382.09,425.26L382.60,423.85L383.11,422.43L383.61,421.01L384.11,419.59L384.62,418.17L385.11,416.75L385.61,415.33L386.11,413.91L386.60,412.49L387.09,411.06L387.58,409.64L388.07,408.22L388.56,406.79L389.05,405.37L389.53,403.94L390.02,402.51L390.50,401.09L390.98,399.66L391.46,398.23L391.94,396.80L392.42,395.37L392.90,393.94L393.37,392.51L393.85,391.08L394.32,389.65L394.79,388.22L395.27,386.79L395.74,385.36L396.21,383.93L396.68,382.50L397.15,381.06L397.61,379.63L398.08,378.20L398.55,376.77L399.01,375.33L399.48,373.90L399.95,372.47L400.41,371.03L400.87,369.60L401.34,368.17L401.80,366.73L402.27,365.30L402.73,363.87L403.19,362.43L403.65,361.00L404.12,359.57L404.58,358.13L405.04,356.70L405.50,355.27L405.97,353.83L406.43,352.40L406.89,350.97L407.35,349.54L407.81,348.11L408.28,346.67L408.74,345.24L409.20,343.81L409.67,342.38L410.13,340.95L410.59,339.52L411.06,338.09L411.52,336.66L411.99,335.23L412.46,333.80L412.92,332.38L413.39,330.95L413.86,329.52L414.33,328.10L414.80,326.67L415.27,325.24L415.74,323.82L416.21,322.40L416.68,320.97L417.16,319.55L417.63,318.13L418.11,316.71L418.58,315.28L419.06,313.86L419.54,312.44L420.02,311.03L420.50,309.61L420.98,308.19L421.47,306.78L421.95,305.36L422.44,303.95L422.93,302.53L423.42,301.12L423.91,299.71L424.40,298.30L424.89,296.89L425.39,295.48L425.88,294.07L426.38,292.66L426.88,291.26L427.39,289.85L427.89,288.45L428.40,287.04L428.90,285.64L429.41,284.24L429.92,282.84L430.44,281.44L430.95,280.04L431.47,278.64L431.99,277.24L432.52,275.85L433.04,274.45L433.57,273.06L434.10,271.66L434.63,270.27L435.17,268.87L435.71,267.48L436.25,266.09L436.79,264.70L437.34,263.31L437.89,261.92L438.44,260.53L438.99,259.14L439.55,257.75L440.11,256.36L440.68,254.97L441.24,253.59L441.81,252.20L442.39,250.81L442.96,249.43L443.54,248.04L444.13,246.65L444.72,245.27L445.31,243.88L445.90,242.50L446.50,241.12L447.10,239.73L447.71,238.35L448.32,236.97L448.93,235.58L449.55,234.20L450.17,232.82L450.79,231.43L451.42,230.05L452.06,228.67L452.69,227.29L453.33,225.91L453.98,224.52L454.63,223.14L455.29,221.76L455.95,220.38L456.61,219.00L457.29,217.63L457.97,216.26L458.65,214.89L459.35,213.53L460.05,212.17L460.77,210.82L461.49,209.48L462.23,208.15L462.97,206.83L463.73,205.51L464.50,204.21L465.28,202.91L466.07,201.63L466.88,200.36L467.70,199.11L468.54,197.87L469.40,196.64L470.26,195.43L471.15,194.23L472.05,193.06L472.97,191.90L473.91,190.75L474.87,189.63L475.85,188.53L476.85,187.45L477.86,186.39L478.90,185.35L479.96,184.34L481.05,183.35L482.15,182.38L483.28,181.44L484.43,180.53L485.61,179.64L486.81,178.78L488.04,177.95L489.29,177.15L490.57,176.38L491.86,175.63L493.18,174.93L494.52,174.25L495.88,173.61L497.25,173.01L498.64,172.45L500.04,171.92L501.46,171.43L502.89,170.98L504.33,170.58L505.78,170.21L507.24,169.90L508.71,169.62L510.18,169.39L511.66,169.21L513.14,169.08L514.63,169.00L516.11,168.96L517.60,168.98L519.08,169.04L520.57,169.14L522.05,169.29L523.54,169.47L525.01,169.70L526.49,169.96L527.96,170.25L529.43,170.58L530.88,170.94L532.34,171.32L533.78,171.74L535.22,172.17L536.65,172.64L538.06,173.12L539.47,173.62L540.87,174.14L542.26,174.69L543.64,175.25L545.02,175.82L546.38,176.42L547.74,177.03L549.09,177.66L550.43,178.31L551.76,178.97L553.09,179.64L554.41,180.33L555.73,181.04L557.04,181.75L558.34,182.48L559.64,183.22L560.93,183.97L562.22,184.73L563.50,185.50L564.78,186.28L566.06,187.07L567.33,187.86L568.60,188.67L569.86,189.48L571.12,190.29L572.38,191.12L573.64,191.94L574.89,192.78L576.14,193.61L577.39,194.45L578.64,195.30L579.89,196.14L581.14,196.99L582.38,197.84L583.63,198.69L584.87,199.53L586.12,200.38L587.36,201.23L588.61,202.08L589.86,202.93L591.10,203.78L592.35,204.63L593.59,205.48L594.84,206.33L596.08,207.18L597.33,208.02L598.57,208.87L599.82,209.72L601.06,210.57L602.31,211.42L603.55,212.27L604.80,213.12L606.04,213.96L607.29,214.81L608.53,215.66L609.78,216.51L611.02,217.35L612.27,218.20L613.51,219.05L614.76,219.89L616.01,220.74L617.25,221.58L618.50,222.43L619.75,223.27L620.99,224.12L622.24,224.96L623.49,225.80L624.73,226.64L625.98,227.49L627.23,228.33L628.48,229.17L629.73,230.01L630.97,230.85L632.22,231.69L633.47,232.52L634.72,233.36L635.97,234.20L637.22,235.04L638.47,235.87L639.73,236.71L640.98,237.54L642.23,238.37L643.48,239.20L644.73,240.04L645.99,240.87L647.24,241.70L648.50,242.52L649.75,243.35L651.01,244.18L652.26,245.00L653.52,245.83L654.77,246.65L656.03,247.48L657.29,248.30L658.55,249.12L659.81,249.94L661.06,250.76L662.32,251.57L663.59,252.39L664.85,253.21L666.11,254.02L667.37,254.83L668.63,255.64L669.90,256.45L671.16,257.26L672.43,258.07L673.69,258.88L674.96,259.68L676.23,260.49L677.50,261.29L678.76,262.09L680.03,262.89L681.30,263.69L682.58,264.48L683.85,265.28L685.12,266.07L686.39,266.86L687.67,267.65L688.94,268.44L690.22,269.23L691.50,270.02L692.77,270.80L694.05,271.58L695.33,272.36L696.61,273.14L697.89,273.92L699.18,274.70L700.46,275.47L701.74,276.24L703.03,277.01L704.32,277.78L705.60,278.55L706.89,279.31L708.18,280.08L709.47,280.84L710.76,281.60L712.05,282.35L713.35,283.11L714.64,283.86L715.94,284.62L717.23,285.36L718.53,286.11L719.83,286.86L721.13,287.60L722.43,288.34L723.74,289.08L725.04,289.82L726.34,290.55L727.65,291.29L728.96,292.02L730.27,292.74L731.58,293.47L732.89,294.19L734.20,294.92L735.51,295.63L736.83,296.35L738.14,297.07L739.46,297.78L740.78,298.49L742.10,299.20L743.42,299.90L744.74,300.60L746.07,301.30L747.39,302.00L748.72,302.70L750.05,303.39L751.38,304.08L752.71,304.76L754.04,305.45L755.38,306.13L756.71,306.81L758.05,307.49L759.39,308.16L760.73,308.83L762.07,309.50L763.41,310.17L764.76,310.83L766.10,311.49L767.45,312.15L768.80,312.81L770.15,313.46L771.50,314.11L772.86,314.75L774.21,315.40L775.57,316.04L776.93,316.68L778.29,317.31L779.65,317.94L781.01,318.57L782.38,319.20L783.75,319.82L785.12,320.44L786.49,321.06L787.86,321.67L789.23,322.28L790.61,322.89L791.99,323.49L793.37,324.09L794.75,324.69L796.13,325.28L797.52,325.88L798.90,326.46L800.29,327.05L801.68,327.63L803.07,328.21L804.47,328.78L805.86,329.35L807.26,329.92L808.66,330.49L810.06,331.05L811.47,331.60L812.87,332.16L814.28,332.71L815.69,333.26L817.10,333.80" fill="none" stroke="#28E2E5" stroke-width="3" stroke-linecap="round" stroke-linejoin="round" stroke-dasharray="0.01 12 9 12" pathLength="982.000" clip-path="url(#ca)"/>
<path d="M154.90,-12.00L154.94,-10.50L154.97,-8.99L155.01,-7.49L155.04,-5.98L155.08,-4.48L155.12,-2.97L155.16,-1.47L155.20,0.04L155.24,1.54L155.28,3.05L155.32,4.55L155.36,6.06L155.41,7.56L155.45,9.07L155.50,10.57L155.55,12.07L155.59,13.58L155.64,15.08L155.69,16.58L155.74,18.09L155.79,19.59L155.85,21.09L155.90,22.60L155.95,24.10L156.01,25.60L156.06,27.10L156.12,28.61L156.18,30.11L156.24,31.61L156.30,33.11L156.36,34.61L156.42,36.12L156.48,37.62L156.54,39.12L156.61,40.62L156.67,42.12L156.74,43.62L156.80,45.12L156.87,46.62L156.94,48.12L157.01,49.62L157.08,51.13L157.15,52.63L157.22,54.13L157.29,55.63L157.37,57.13L157.44,58.63L157.52,60.13L157.60,61.63L157.67,63.12L157.75,64.62L157.83,66.12L157.91,67.62L158.00,69.12L158.08,70.62L158.16,72.12L158.25,73.62L158.33,75.12L158.42,76.62L158.51,78.11L158.59,79.61L158.68,81.11L158.77,82.61L158.86,84.11L158.96,85.60L159.05,87.10L159.14,88.60L159.24,90.10L159.34,91.60L159.43,93.09L159.53,94.59L159.63,96.09L159.73,97.58L159.83,99.08L159.93,100.58L160.04,102.07L160.14,103.57L160.25,105.07L160.35,106.56L160.46,108.06L160.57,109.56L160.68,111.05L160.79,112.55L160.90,114.05L161.01,115.54L161.12,117.04L161.24,118.53L161.35,120.03L161.47,121.52L161.59,123.02L161.70,124.51L161.82,126.01L161.94,127.51L162.06,129.00L162.19,130.50L162.31,131.99L162.43,133.49L162.56,134.98L162.69,136.47L162.81,137.97L162.94,139.46L163.07,140.96L163.20,142.45L163.34,143.95L163.47,145.44L163.60,146.93L163.74,148.43L163.87,149.92L164.01,151.42L164.15,152.91L164.29,154.40L164.43,155.90L164.57,157.39L164.71,158.88L164.85,160.38L165.00,161.87L165.14,163.36L165.29,164.86L165.44,166.35L165.59,167.84L165.74,169.34L165.89,170.83L166.04,172.32L166.19,173.81L166.35,175.31L166.50,176.80L166.66,178.29L166.82,179.78L166.98,181.28L167.14,182.77L167.30,184.26L167.46,185.75L167.62,187.24L167.79,188.74L167.95,190.23L168.12,191.72L168.29,193.21L168.46,194.70L168.62,196.20L168.80,197.69L168.97,199.18L169.14,200.67L169.32,202.16L169.49,203.65L169.67,205.14L169.85,206.63L170.02,208.13L170.20,209.62L170.39,211.11L170.57,212.60L170.75,214.09L170.94,215.58L171.12,217.07L171.31,218.56L171.50,220.05L171.68,221.54L171.88,223.03L172.07,224.52L172.26,226.01L172.45,227.50L172.65,229.00L172.84,230.49L173.04,231.98L173.24,233.47L173.44,234.96L173.64,236.45L173.84,237.94L174.05,239.43L174.25,240.92L174.46,242.41L174.66,243.90L174.87,245.39L175.08,246.87L175.29,248.36L175.50,249.85L175.71,251.34L175.93,252.83L176.14,254.32L176.36,255.81L176.58,257.30L176.79,258.79L177.01,260.28L177.24,261.77L177.46,263.26L177.68,264.75L177.91,266.24L178.13,267.73L178.36,269.22L178.59,270.70L178.82,272.19L179.05,273.68L179.28,275.17L179.52,276.66L179.76,278.15L180.00,279.63L180.24,281.12L180.48,282.61L180.72,284.09L180.97,285.58L181.22,287.07L181.47,288.55L181.73,290.04L181.98,291.52L182.24,293.00L182.50,294.49L182.77,295.97L183.03,297.45L183.30,298.93L183.57,300.41L183.85,301.89L184.13,303.37L184.41,304.85L184.69,306.33L184.98,307.81L185.27,309.28L185.56,310.76L185.86,312.23L186.16,313.71L186.46,315.18L186.77,316.65L187.08,318.12L187.39,319.59L187.71,321.06L188.03,322.53L188.36,324.00L188.69,325.47L189.02,326.93L189.36,328.39L189.70,329.86L190.05,331.32L190.40,332.78L190.75,334.24L191.11,335.70L191.48,337.15L191.85,338.61L192.22,340.06L192.60,341.51L192.98,342.96L193.37,344.41L193.76,345.86L194.16,347.31L194.56,348.75L194.96,350.20L195.38,351.64L195.79,353.08L196.22,354.52L196.65,355.96L197.08,357.39L197.52,358.83L197.96,360.26L198.41,361.69L198.87,363.12L199.33,364.55L199.80,365.97L200.27,367.40L200.75,368.82L201.24,370.24L201.73,371.66L202.23,373.07L202.73,374.49L203.24,375.90L203.76,377.31L204.28,378.72L204.81,380.12L205.35,381.53L205.89,382.93L206.44,384.33L207.00,385.73L207.56,387.12L208.13,388.51L208.70,389.90L209.29,391.29L209.88,392.68L210.47,394.06L211.08,395.44L211.69,396.82L212.30,398.19L212.93,399.56L213.56,400.93L214.19,402.30L214.84,403.66L215.49,405.02L216.15,406.37L216.81,407.72L217.48,409.07L218.16,410.42L218.84,411.76L219.53,413.10L220.23,414.43L220.94,415.76L221.65,417.09L222.37,418.41L223.10,419.73L223.83,421.04L224.57,422.35L225.31,423.66L226.07,424.96L226.83,426.25L227.60,427.55L228.37,428.83L229.15,430.12L229.94,431.39L230.73,432.67L231.54,433.94L232.35,435.20L233.16,436.46L233.98,437.71L234.81,438.96L235.65,440.21L236.50,441.44L237.35,442.68L238.21,443.90L239.07,445.13L239.94,446.34L240.82,447.55L241.71,448.76L242.60,449.96L243.50,451.15L244.41,452.34L245.33,453.52L246.25,454.69L247.18,455.86L248.11,457.02L249.06,458.18L250.01,459.33L250.97,460.47L251.93,461.61L252.90,462.74L253.88,463.87L254.87,464.98L255.86,466.09L256.86,467.20L257.87,468.29L258.89,469.38L259.91,470.47L260.94,471.54L261.98,472.61L263.02,473.67L264.07,474.72L265.13,475.77L266.20,476.81L267.27,477.84L268.35,478.86L269.44,479.87L270.54,480.88L271.64,481.88L272.75,482.87L273.87,483.86L274.99,484.83L276.12,485.80L277.26,486.76L278.41,487.71L279.56,488.65L280.72,489.58L281.89,490.51L283.07,491.43L284.25,492.34L285.44,493.24L286.63,494.14L287.83,495.02L289.04,495.90L290.25,496.77L291.47,497.64L292.70,498.49L293.93,499.34L295.17,500.18L296.41,501.01L297.66,501.84L298.92,502.66L300.18,503.47L301.45,504.27L302.72,505.07L303.99,505.86L305.27,506.64L306.56,507.41L307.85,508.18L309.15,508.94L310.45,509.70L311.76,510.44L313.07,511.18L314.38,511.92L315.70,512.64L317.02,513.36L318.35,514.07L319.68,514.78L321.02,515.48L322.36,516.17L323.70,516.86L325.05,517.54L326.40,518.21L327.75,518.88L329.11,519.54L330.47,520.19L331.83,520.84L333.20,521.48L334.57,522.12L335.94,522.75L337.32,523.37L338.69,523.99L340.07,524.60L341.46,525.20L342.84,525.80L344.23,526.39L345.62,526.98L347.01,527.56L348.41,528.14L349.80,528.71L351.20,529.28L352.61,529.84L354.01,530.39L355.42,530.94L356.82,531.48L358.23,532.02L359.65,532.55L361.06,533.08L362.48,533.60L363.89,534.12L365.31,534.63L366.73,535.14L368.16,535.64L369.58,536.14L371.01,536.63L372.44,537.11L373.87,537.60L375.30,538.07L376.73,538.55L378.17,539.02L379.60,539.48L381.04,539.94L382.48,540.39L383.92,540.84L385.36,541.29L386.80,541.73L388.24,542.17L389.69,542.60L391.14,543.03L392.58,543.45L394.03,543.87L395.48,544.29L396.93,544.70L398.38,545.11L399.83,545.52L401.29,545.92L402.74,546.31L404.19,546.71L405.65,547.10L407.10,547.48L408.56,547.87L410.02,548.24L411.48,548.62L412.93,548.99L414.39,549.36L415.85,549.73L417.31,550.09L418.77,550.45L420.23,550.80L421.70,551.15L423.16,551.50L424.62,551.85L426.08,552.19L427.55,552.53L429.01,552.86L430.48,553.20L431.94,553.53L433.41,553.85L434.87,554.18L436.34,554.50L437.81,554.81L439.28,555.13L440.74,555.44L442.21,555.75L443.68,556.06L445.15,556.36L446.62,556.66L448.09,556.96L449.56,557.25L451.04,557.54L452.51,557.83L453.98,558.12L455.45,558.41L456.93,558.69L458.40,558.97L459.87,559.24L461.35,559.52L462.82,559.79L464.30,560.06L465.77,560.32L467.25,560.59L468.73,560.85L470.20,561.11L471.68,561.37L473.16,561.62L474.64,561.88L476.11,562.13L477.59,562.37L479.07,562.62L480.55,562.86L482.03,563.11L483.51,563.35L484.99,563.58L486.47,563.82L487.95,564.05L489.43,564.29L490.92,564.52L492.40,564.74L493.88,564.97L495.36,565.19L496.85,565.42L498.33,565.64L499.81,565.86L501.30,566.07L502.78,566.29L504.27,566.50L505.75,566.72L507.23,566.93L508.72,567.13L510.21,567.34L511.69,567.55L513.18,567.75L514.66,567.96L516.15,568.16L517.64,568.36L519.12,568.56L520.61,568.75L522.10,568.95L523.58,569.14L525.07,569.34L526.56,569.53L528.05,569.72L529.54,569.91L531.03,570.10L532.51,570.28L534.00,570.47L535.49,570.66L536.98,570.84L538.47,571.02L539.96,571.20L541.45,571.38L542.94,571.56L544.43,571.74L545.92,571.92L547.41,572.09L548.90,572.27L550.39,572.44L551.88,572.61L553.38,572.78L554.87,572.95L556.36,573.12L557.85,573.29L559.34,573.46L560.83,573.62L562.33,573.79L563.82,573.95L565.31,574.11L566.80,574.27L568.30,574.43L569.79,574.59L571.28,574.75L572.78,574.91L574.27,575.06L575.76,575.22L577.26,575.37L578.75,575.53L580.25,575.68L581.74,575.83L583.24,575.98L584.73,576.13L586.22,576.28L587.72,576.42L589.21,576.57L590.71,576.71L592.20,576.86L593.70,577.00L595.20,577.14L596.69,577.29L598.19,577.43L599.68,577.57L601.18,577.71L602.68,577.84L604.17,577.98L605.67,578.12L607.16,578.25L608.66,578.39L610.16,578.52L611.65,578.65L613.15,578.78L614.65,578.91L616.15,579.04L617.64,579.17L619.14,579.30L620.64,579.43L622.14,579.56L623.63,579.68L625.13,579.81L626.63,579.93L628.13,580.06L629.62,580.18L631.12,580.30L632.62,580.42L634.12,580.54L635.62,580.66L637.12,580.78L638.61,580.90L640.11,581.02L641.61,581.13L643.11,581.25L644.61,581.36L646.11,581.48L647.61,581.59L649.11,581.71L650.61,581.82L652.11,581.93L653.60,582.04L655.10,582.15L656.60,582.26L658.10,582.37L659.60,582.48L661.10,582.59L662.60,582.69L664.10,582.80L665.60,582.91L667.10,583.01L668.60,583.12L670.10,583.22L671.60,583.32L673.10,583.43L674.60,583.53L676.10,583.63L677.60,583.73L679.10,583.83L680.60,583.93L682.10,584.03L683.60,584.13L685.10,584.23L686.60,584.33L688.10,584.42L689.61,584.52L691.11,584.62L692.61,584.71L694.11,584.81L695.61,584.90L697.11,585.00L698.61,585.09L700.11,585.18L701.61,585.28L703.11,585.37L704.61,585.46L706.11,585.55L707.61,585.64L709.11,585.73L710.62,585.82L712.12,585.91L713.62,586.00L715.12,586.09L716.62,586.18L718.12,586.27L719.62,586.35L721.12,586.44L722.62,586.53L724.12,586.61L725.62,586.70L727.12,586.79L728.62,586.87L730.13,586.96L731.63,587.04L733.13,587.13L734.63,587.21L736.13,587.29L737.63,587.38L739.13,587.46L740.63,587.54L742.13,587.62L743.63,587.71L745.13,587.79L746.63,587.87L748.13,587.95L749.63,588.03L751.13,588.11L752.63,588.19L754.14,588.27L755.64,588.35L757.14,588.43L758.64,588.51L760.14,588.59L761.64,588.67L763.14,588.75L764.64,588.83L766.14,588.91L767.64,588.98L769.14,589.06L770.64,589.14L772.14,589.22L773.64,589.30L775.14,589.37L776.64,589.45L778.14,589.53L779.63,589.60L781.13,589.68L782.63,589.76L784.13,589.83L785.63,589.91L787.13,589.99L788.63,590.06L790.13,590.14L791.63,590.22L793.13,590.29L794.63,590.37L796.13,590.44L797.62,590.52L799.12,590.60L800.62,590.67L802.12,590.75L803.62,590.82L805.12,590.90L806.61,590.97L808.11,591.05L809.61,591.13L811.11,591.20L812.61,591.28L814.10,591.35L815.60,591.43L817.10,591.50" fill="none" stroke="#F5C710" stroke-width="3" stroke-linecap="round" stroke-linejoin="round" stroke-dasharray="18 12" stroke-dashoffset="4.160" clip-path="url(#ca)"/>
<path d="M146.70,474.40L149.00,386.40L149.10,387.91L149.19,389.41L149.30,390.91L149.41,392.42L149.52,393.92L149.65,395.42L149.77,396.92L149.90,398.42L150.04,399.92L150.18,401.41L150.33,402.91L150.48,404.40L150.64,405.89L150.81,407.39L150.98,408.88L151.16,410.37L151.35,411.86L151.54,413.34L151.73,414.83L151.94,416.32L152.15,417.80L152.36,419.28L152.58,420.77L152.81,422.25L153.05,423.73L153.29,425.21L153.54,426.68L153.80,428.16L154.06,429.64L154.34,431.11L154.61,432.59L154.90,434.06L155.19,435.53L155.49,437.00L155.80,438.47L156.12,439.94L156.44,441.40L156.77,442.87L157.11,444.33L157.46,445.80L157.81,447.26L158.17,448.72L158.55,450.18L158.93,451.64L159.32,453.09L159.72,454.54L160.13,455.99L160.55,457.44L160.98,458.88L161.43,460.32L161.88,461.76L162.35,463.19L162.83,464.62L163.32,466.04L163.82,467.46L164.34,468.87L164.87,470.28L165.42,471.69L165.98,473.08L166.55,474.48L167.14,475.86L167.74,477.24L168.36,478.62L168.99,479.98L169.64,481.34L170.31,482.70L170.99,484.04L171.69,485.38L172.41,486.71L173.15,488.02L173.90,489.33L174.67,490.63L175.46,491.91L176.27,493.19L177.09,494.44L177.94,495.69L178.80,496.91L179.69,498.12L180.59,499.31L181.52,500.49L182.46,501.64L183.43,502.78L184.41,503.89L185.42,504.98L186.45,506.05L187.50,507.09L188.57,508.11L189.67,509.10L190.78,510.07L191.92,511.01L193.09,511.92L194.27,512.81L195.48,513.66L196.71,514.48L197.97,515.27L199.24,516.04L200.53,516.78L201.85,517.50L203.17,518.19L204.52,518.86L205.88,519.51L207.25,520.15L208.63,520.77L210.02,521.37L211.42,521.96L212.83,522.54L214.24,523.10L215.66,523.66L217.08,524.21L218.50,524.76L219.93,525.29L221.36,525.81L222.79,526.33L224.23,526.83L225.66,527.32L227.11,527.79L228.55,528.26L229.99,528.70L231.44,529.14L232.89,529.55L234.34,529.95L235.79,530.34L237.25,530.71L238.70,531.06L240.16,531.40L241.62,531.72L243.08,532.03L244.54,532.33L246.01,532.61L247.47,532.89L248.94,533.14L250.41,533.39L251.88,533.63L253.36,533.85L254.83,534.07L256.30,534.27L257.78,534.47L259.26,534.65L260.74,534.83L262.22,535.00L263.70,535.16L265.19,535.31L266.67,535.45L268.16,535.59L269.65,535.72L271.14,535.85L272.63,535.97L274.12,536.08L275.61,536.19L277.11,536.30L278.60,536.40L280.10,536.50L281.60,536.59L283.10,536.68L284.59,536.77L286.10,536.85L287.60,536.93L289.10,537.01L290.60,537.08L292.11,537.15L293.61,537.22L295.12,537.28L296.62,537.34L298.13,537.39L299.64,537.44L301.14,537.49L302.65,537.53L304.16,537.57L305.67,537.61L307.18,537.64L308.69,537.67L310.20,537.69L311.71,537.71L313.21,537.73L314.72,537.74L316.23,537.75L317.74,537.76L319.25,537.76L320.76,537.75L322.27,537.75L323.78,537.74L325.29,537.72L326.80,537.70L328.31,537.68L329.81,537.65L331.32,537.62L332.83,537.59L334.33,537.55L335.84,537.51L337.35,537.46L338.85,537.41L340.35,537.35L341.86,537.30L343.36,537.23L344.86,537.17L346.36,537.09L347.86,537.02L349.36,536.94L350.86,536.86L352.36,536.77L353.86,536.68L355.36,536.59L356.85,536.49L358.35,536.39L359.85,536.29L361.34,536.18L362.84,536.06L364.33,535.95L365.83,535.83L367.32,535.71L368.82,535.58L370.31,535.45L371.80,535.32L373.29,535.18L374.78,535.04L376.28,534.90L377.77,534.75L379.26,534.60L380.75,534.45L382.24,534.29L383.73,534.13L385.21,533.97L386.70,533.81L388.19,533.64L389.68,533.47L391.17,533.29L392.65,533.11L394.14,532.93L395.63,532.75L397.11,532.56L398.60,532.37L400.09,532.18L401.57,531.98L403.06,531.79L404.54,531.59L406.03,531.38L407.51,531.18L409.00,530.97L410.48,530.76L411.97,530.54L413.45,530.32L414.93,530.10L416.42,529.88L417.90,529.66L419.38,529.43L420.87,529.20L422.35,528.97L423.83,528.74L425.32,528.50L426.80,528.26L428.28,528.02L429.76,527.78L431.25,527.53L432.73,527.28L434.21,527.03L435.69,526.78L437.18,526.52L438.66,526.27L440.14,526.01L441.62,525.75L443.11,525.49L444.59,525.22L446.07,524.95L447.55,524.69L449.04,524.42L450.52,524.14L452.00,523.87L453.48,523.59L454.96,523.31L456.45,523.03L457.93,522.74L459.41,522.46L460.89,522.17L462.37,521.87L463.85,521.58L465.33,521.28L466.81,520.98L468.28,520.67L469.76,520.37L471.24,520.06L472.71,519.74L474.19,519.43L475.66,519.11L477.14,518.78L478.61,518.45L480.08,518.12L481.55,517.79L483.02,517.45L484.49,517.11L485.96,516.76L487.42,516.41L488.89,516.06L490.35,515.70L491.81,515.34L493.27,514.97L494.73,514.60L496.19,514.22L497.65,513.84L499.10,513.46L500.56,513.07L502.01,512.68L503.46,512.28L504.91,511.87L506.35,511.46L507.80,511.05L509.24,510.63L510.68,510.21L512.12,509.78L513.56,509.35L515.00,508.91L516.43,508.46L517.86,508.01L519.29,507.55L520.72,507.09L522.14,506.63L523.56,506.15L524.98,505.67L526.40,505.19L527.82,504.70L529.23,504.20L530.64,503.70L532.05,503.19L533.45,502.67L534.86,502.15L536.26,501.62L537.65,501.09L539.05,500.54L540.44,499.99L541.83,499.44L543.22,498.88L544.60,498.31L545.98,497.73L547.36,497.15L548.73,496.56L550.10,495.96L551.47,495.36L552.84,494.75L554.20,494.13L555.56,493.50L556.91,492.87L558.27,492.23L559.62,491.58L560.96,490.92L562.31,490.26L563.65,489.60L564.98,488.92L566.32,488.24L567.65,487.55L568.98,486.86L570.30,486.16L571.62,485.46L572.94,484.74L574.26,484.03L575.57,483.30L576.89,482.57L578.19,481.84L579.50,481.09L580.80,480.35L582.10,479.59L583.40,478.84L584.69,478.07L585.98,477.30L587.27,476.53L588.56,475.75L589.84,474.97L591.12,474.18L592.40,473.38L593.67,472.58L594.95,471.78L596.22,470.97L597.48,470.16L598.75,469.34L600.01,468.52L601.27,467.69L602.53,466.86L603.78,466.02L605.03,465.18L606.28,464.34L607.53,463.49L608.77,462.64L610.02,461.79L611.26,460.93L612.49,460.07L613.73,459.20L614.96,458.33L616.19,457.46L617.42,456.58L618.64,455.70L619.87,454.82L621.09,453.93L622.31,453.05L623.52,452.15L624.74,451.26L625.95,450.36L627.16,449.46L628.37,448.56L629.57,447.66L630.78,446.75L631.98,445.84L633.18,444.93L634.37,444.01L635.57,443.09L636.76,442.18L637.95,441.25L639.14,440.33L640.33,439.41L641.51,438.48L642.70,437.55L643.88,436.62L645.06,435.69L646.23,434.76L647.41,433.83L648.58,432.89L649.76,431.96L650.93,431.02L652.10,430.08L653.27,429.14L654.44,428.20L655.61,427.26L656.77,426.31L657.94,425.37L659.10,424.43L660.27,423.48L661.43,422.54L662.59,421.59L663.75,420.64L664.92,419.70L666.08,418.75L667.24,417.80L668.40,416.85L669.56,415.91L670.72,414.96L671.88,414.01L673.04,413.06L674.20,412.11L675.36,411.17L676.52,410.22L677.68,409.27L678.85,408.33L680.01,407.38L681.17,406.44L682.33,405.49L683.50,404.55L684.66,403.61L685.83,402.66L687.00,401.72L688.17,400.79L689.34,399.85L690.51,398.92L691.69,397.98L692.86,397.05L694.04,396.13L695.22,395.20L696.41,394.28L697.59,393.36L698.78,392.45L699.97,391.53L701.16,390.62L702.36,389.72L703.56,388.81L704.76,387.92L705.97,387.02L707.18,386.13L708.39,385.25L709.60,384.36L710.82,383.49L712.05,382.62L713.28,381.75L714.51,380.89L715.75,380.03L716.99,379.18L718.23,378.34L719.48,377.50L720.74,376.66L722.00,375.83L723.26,375.01L724.53,374.20L725.81,373.39L727.08,372.59L728.37,371.79L729.65,371.01L730.94,370.23L732.24,369.45L733.54,368.69L734.85,367.93L736.15,367.18L737.47,366.43L738.79,365.70L740.11,364.97L741.43,364.25L742.76,363.54L744.10,362.84L745.44,362.15L746.78,361.46L748.13,360.79L749.48,360.12L750.83,359.47L752.19,358.82L753.56,358.18L754.92,357.56L756.29,356.94L757.67,356.33L759.05,355.73L760.43,355.15L761.82,354.57L763.21,354.00L764.60,353.45L766.00,352.90L767.40,352.37L768.81,351.85L770.22,351.34L771.63,350.84L773.05,350.35L774.47,349.88L775.89,349.42L777.32,348.96L778.75,348.52L780.18,348.10L781.62,347.68L783.06,347.28L784.50,346.89L785.95,346.52L787.40,346.16L788.86,345.81L790.32,345.47L791.78,345.15L793.24,344.84L794.71,344.55L796.18,344.27L797.66,344.00L799.13,343.75L800.61,343.51L802.10,343.29L803.58,343.08L805.07,342.89L806.57,342.71L808.06,342.55L809.56,342.40L811.06,342.27L812.57,342.15L814.08,342.05L815.59,341.97L817.10,341.90" fill="none" stroke="#9E9E9E" stroke-width="3" stroke-linecap="round" stroke-linejoin="round" clip-path="url(#ca)"/>
<path d="M198.60,623.90L200.10,623.91L201.61,623.93L203.11,623.94L204.62,623.96L206.12,623.97L207.62,623.98L209.13,623.99L210.63,624.00L212.14,624.01L213.64,624.02L215.15,624.02L216.65,624.03L218.16,624.04L219.66,624.04L221.17,624.04L222.67,624.05L224.18,624.05L225.68,624.05L227.19,624.05L228.69,624.05L230.20,624.05L231.70,624.05L233.21,624.04L234.71,624.04L236.22,624.04L237.73,624.03L239.23,624.03L240.74,624.03L242.24,624.02L243.75,624.01L245.26,624.01L246.76,624.00L248.27,624.00L249.77,623.99L251.28,623.98L252.79,623.97L254.29,623.97L255.80,623.96L257.30,623.95L258.81,623.94L260.31,623.93L261.82,623.92L263.33,623.91L264.83,623.90L266.34,623.89L267.84,623.89L269.35,623.88L270.85,623.87L272.36,623.86L273.87,623.85L275.37,623.84L276.88,623.83L278.38,623.82L279.89,623.81L281.39,623.80L282.90,623.79L284.40,623.79L285.91,623.78L287.41,623.77L288.92,623.76L290.42,623.76L291.93,623.75L293.43,623.74L294.94,623.74L296.44,623.73L297.94,623.73L299.45,623.72L300.95,623.72L302.46,623.71L303.96,623.71L305.46,623.71L306.97,623.70L308.47,623.70L309.97,623.70L311.48,623.70L312.98,623.70L314.48,623.70L315.99,623.70L317.49,623.70L318.99,623.71L320.49,623.71L321.99,623.72L323.50,623.72L325.00,623.73L326.50,623.74L328.00,623.74L329.50,623.75L331.00,623.76L332.50,623.77L334.00,623.78L335.50,623.80L337.00,623.81L338.50,623.83L340.00,623.84L341.50,623.86L343.00,623.88L344.50,623.89L346.00,623.91L347.50,623.93L349.00,623.95L350.50,623.97L352.00,623.98L353.50,624.00L355.00,624.02L356.50,624.03L358.00,624.05L359.50,624.06L361.00,624.08L362.50,624.09L364.00,624.10L365.50,624.11L367.00,624.12L368.50,624.13L370.01,624.13L371.51,624.14L373.01,624.14L374.52,624.14L376.02,624.14L377.53,624.13L379.03,624.12L380.54,624.11L382.05,624.10L383.55,624.09L385.06,624.07L386.57,624.04L388.08,624.02L389.59,623.99L391.10,623.96L392.62,623.92L394.13,623.88L395.64,623.84L397.16,623.79L398.67,623.74L400.19,623.69L401.71,623.63L403.23,623.56L404.75,623.49L406.27,623.42L407.79,623.34L409.31,623.25L410.84,623.16L412.36,623.06L413.88,622.96L415.40,622.84L416.93,622.72L418.45,622.59L419.96,622.45L421.48,622.30L423.00,622.14L424.51,621.97L426.02,621.79L427.53,621.60L429.03,621.40L430.53,621.18L432.03,620.95L433.52,620.70L435.01,620.45L436.50,620.17L437.98,619.88L439.45,619.58L440.92,619.26L442.38,618.93L443.84,618.57L445.29,618.20L446.74,617.82L448.18,617.41L449.61,616.98L451.04,616.54L452.45,616.07L453.86,615.59L455.26,615.08L456.66,614.56L458.04,614.01L459.42,613.45L460.79,612.86L462.14,612.26L463.49,611.63L464.83,610.99L466.16,610.33L467.48,609.64L468.79,608.95L470.09,608.23L471.38,607.49L472.65,606.74L473.92,605.96L475.17,605.17L476.42,604.36L477.65,603.54L478.87,602.70L480.07,601.84L481.27,600.96L482.45,600.07L483.62,599.15L484.77,598.23L485.92,597.29L487.05,596.33L488.16,595.35L489.26,594.36L490.35,593.36L491.42,592.33L492.48,591.30L493.52,590.25L494.55,589.18L495.56,588.10L496.56,587.00L497.54,585.89L498.51,584.77L499.45,583.63L500.39,582.48L501.30,581.31L502.20,580.13L503.08,578.94L503.95,577.74L504.80,576.52L505.64,575.29L506.46,574.05L507.27,572.80L508.06,571.53L508.84,570.26L509.60,568.97L510.35,567.68L511.09,566.37L511.81,565.06L512.52,563.74L513.22,562.40L513.91,561.06L514.58,559.71L515.24,558.36L515.90,556.99L516.54,555.62L517.17,554.24L517.79,552.86L518.40,551.47L518.99,550.07L519.59,548.67L520.17,547.26L520.74,545.85L521.30,544.43L521.86,543.01L522.40,541.58L522.94,540.15L523.47,538.72L524.00,537.28L524.52,535.84L525.03,534.40L525.53,532.96L526.03,531.52L526.53,530.07L527.01,528.62L527.50,527.18L527.97,525.73L528.45,524.28L528.91,522.83L529.38,521.38L529.84,519.93L530.29,518.48L530.74,517.03L531.18,515.57L531.62,514.12L532.06,512.67L532.49,511.21L532.91,509.76L533.34,508.30L533.75,506.85L534.17,505.39L534.58,503.93L534.98,502.48L535.39,501.02L535.78,499.56L536.18,498.10L536.57,496.64L536.95,495.18L537.33,493.72L537.71,492.26L538.09,490.80L538.46,489.34L538.82,487.87L539.19,486.41L539.55,484.95L539.91,483.48L540.26,482.02L540.61,480.56L540.96,479.09L541.30,477.62L541.64,476.16L541.98,474.69L542.32,473.23L542.65,471.76L542.98,470.29L543.30,468.82L543.63,467.35L543.95,465.89L544.27,464.42L544.58,462.95L544.90,461.48L545.21,460.01L545.52,458.54L545.82,457.07L546.13,455.59L546.43,454.12L546.73,452.65L547.02,451.18L547.32,449.71L547.61,448.23L547.90,446.76L548.19,445.29L548.48,443.81L548.76,442.34L549.05,440.86L549.33,439.39L549.61,437.91L549.89,436.44L550.16,434.96L550.44,433.49L550.71,432.01L550.98,430.54L551.25,429.06L551.52,427.58L551.79,426.11L552.06,424.63L552.33,423.15L552.59,421.67L552.86,420.20L553.12,418.72L553.38,417.24L553.64,415.76L553.90,414.28L554.16,412.80L554.42,411.32L554.68,409.85L554.94,408.37L555.19,406.89L555.45,405.41L555.70,403.93L555.95,402.45L556.21,400.97L556.46,399.49L556.71,398.00L556.96,396.52L557.20,395.04L557.45,393.56L557.70,392.08L557.94,390.60L558.19,389.12L558.43,387.63L558.68,386.15L558.92,384.67L559.16,383.19L559.40,381.70L559.64,380.22L559.88,378.74L560.12,377.25L560.35,375.77L560.59,374.29L560.82,372.80L561.06,371.32L561.29,369.83L561.53,368.35L561.76,366.87L561.99,365.38L562.22,363.90L562.45,362.41L562.68,360.93L562.91,359.44L563.14,357.96L563.36,356.47L563.59,354.98L563.81,353.50L564.04,352.01L564.26,350.53L564.49,349.04L564.71,347.55L564.93,346.07L565.15,344.58L565.37,343.09L565.59,341.61L565.81,340.12L566.03,338.63L566.25,337.14L566.47,335.66L566.68,334.17L566.90,332.68L567.11,331.19L567.33,329.70L567.54,328.22L567.75,326.73L567.97,325.24L568.18,323.75L568.39,322.26L568.60,320.77L568.81,319.28L569.02,317.79L569.23,316.30L569.44,314.81L569.65,313.33L569.85,311.84L570.06,310.35L570.27,308.86L570.47,307.37L570.68,305.88L570.88,304.39L571.09,302.89L571.29,301.40L571.49,299.91L571.70,298.42L571.90,296.93L572.10,295.44L572.30,293.95L572.50,292.46L572.70,290.97L572.90,289.48L573.10,287.99L573.30,286.49L573.50,285.00L573.70,283.51L573.89,282.02L574.09,280.53L574.29,279.04L574.48,277.54L574.68,276.05L574.87,274.56L575.07,273.07L575.26,271.57L575.46,270.08L575.65,268.59L575.84,267.10L576.04,265.60L576.23,264.11L576.42,262.62L576.61,261.13L576.80,259.63L577.00,258.14L577.19,256.65L577.38,255.15L577.57,253.66L577.76,252.17L577.95,250.67L578.13,249.18L578.32,247.69L578.51,246.19L578.70,244.70L578.89,243.21L579.07,241.71L579.26,240.22L579.45,238.72L579.64,237.23L579.82,235.74L580.01,234.24L580.19,232.75L580.38,231.25L580.57,229.76L580.75,228.27L580.94,226.77L581.12,225.28L581.31,223.78L581.49,222.29L581.67,220.79L581.86,219.30L582.04,217.81L582.23,216.31L582.41,214.82L582.59,213.32L582.78,211.83L582.96,210.33L583.14,208.84L583.32,207.34L583.51,205.85L583.69,204.35L583.87,202.86L584.05,201.36L584.24,199.87L584.42,198.37L584.60,196.88L584.78,195.38L584.96,193.89L585.14,192.39L585.33,190.90L585.51,189.41L585.69,187.91L585.87,186.42L586.05,184.92L586.23,183.43L586.41,181.93L586.59,180.44L586.78,178.94L586.96,177.45L587.14,175.95L587.32,174.46L587.50,172.96L587.68,171.47L587.86,169.97L588.04,168.48L588.22,166.98L588.40,165.49L588.59,163.99L588.77,162.50L588.95,161.00L589.13,159.51L589.31,158.01L589.49,156.52L589.67,155.02L589.85,153.53L590.04,152.03L590.22,150.54L590.40,149.04L590.58,147.55L590.76,146.05L590.94,144.56L591.13,143.06L591.31,141.57L591.49,140.07L591.67,138.58L591.86,137.08L592.04,135.59L592.22,134.10L592.40,132.60L592.59,131.11L592.77,129.61L592.95,128.12L593.14,126.62L593.32,125.13L593.51,123.63L593.69,122.14L593.87,120.65L594.06,119.15L594.24,117.66L594.43,116.16L594.61,114.67L594.80,113.18L594.99,111.68L595.17,110.19L595.36,108.69L595.54,107.20L595.73,105.71L595.92,104.21L596.11,102.72L596.29,101.23L596.48,99.73L596.67,98.24L596.86,96.75L597.05,95.25L597.24,93.76L597.43,92.27L597.61,90.77L597.80,89.28L598.00,87.79L598.19,86.30L598.38,84.80L598.57,83.31L598.76,81.82L598.95,80.33L599.14,78.83L599.34,77.34L599.53,75.85L599.72,74.36L599.92,72.87L600.11,71.37L600.31,69.88L600.50,68.39L600.70,66.90L600.89,65.41L601.09,63.92L601.29,62.42L601.49,60.93L601.68,59.44L601.88,57.95L602.08,56.46L602.28,54.97L602.48,53.48L602.68,51.99L602.88,50.50L603.08,49.01L603.28,47.52L603.48,46.03L603.69,44.54L603.89,43.05L604.09,41.56L604.30,40.07L604.50,38.58L604.71,37.09L604.91,35.60L605.12,34.11L605.33,32.62L605.53,31.13L605.74,29.64L605.95,28.15L606.16,26.66L606.37,25.17L606.58,23.69L606.79,22.20L607.00,20.71L607.21,19.22L607.43,17.73L607.64,16.25L607.85,14.76L608.07,13.27L608.28,11.78L608.50,10.30L608.72,8.81L608.93,7.32L609.15,5.83L609.37,4.35L609.59,2.86L609.81,1.38L610.03,-0.11L610.25,-1.60L610.47,-3.08L610.69,-4.57L610.92,-6.05L611.14,-7.54L611.37,-9.02L611.59,-10.51L611.82,-12.00" fill="none" stroke="#000000" stroke-width="3" stroke-linecap="round" stroke-linejoin="round" stroke-dasharray="0.01 12" clip-path="url(#ca)"/>
<path d="M1064.30,623.10L1064.47,621.58L1064.62,620.07L1064.75,618.57L1064.86,617.07L1064.94,615.57L1065.02,614.07L1065.07,612.58L1065.12,611.09L1065.14,609.60L1065.16,608.11L1065.17,606.63L1065.17,605.14L1065.16,603.66L1065.14,602.17L1065.12,600.68L1065.10,599.19L1065.07,597.70L1065.04,596.21L1065.02,594.72L1065.00,593.22L1064.98,591.72L1064.96,590.21L1064.95,588.70L1064.95,587.18L1064.96,585.66L1064.98,584.13L1065.01,582.60L1065.05,581.06L1065.11,579.51L1065.19,577.95L1065.28,576.39L1065.39,574.82L1065.52,573.24L1065.68,571.66L1065.86,570.09L1066.07,568.52L1066.32,566.97L1066.59,565.43L1066.91,563.91L1067.26,562.41L1067.65,560.94L1068.09,559.50L1068.57,558.10L1069.11,556.73L1069.69,555.41L1070.33,554.14L1071.02,552.92L1071.77,551.75L1072.58,550.64L1073.46,549.60L1074.41,548.62L1075.42,547.71L1076.49,546.88L1077.63,546.10L1078.82,545.39L1080.06,544.74L1081.35,544.15L1082.69,543.62L1084.06,543.14L1085.48,542.71L1086.92,542.33L1088.40,541.99L1089.90,541.70L1091.42,541.45L1092.95,541.24L1094.50,541.07L1096.06,540.93L1097.63,540.82L1099.19,540.74L1100.75,540.69L1102.31,540.66L1103.86,540.66L1105.41,540.68L1106.94,540.72L1108.48,540.78L1110.01,540.86L1111.53,540.96L1113.05,541.07L1114.56,541.21L1116.07,541.36L1117.58,541.52L1119.08,541.70L1120.58,541.89L1122.07,542.09L1123.57,542.30L1125.06,542.52L1126.54,542.76L1128.03,542.99L1129.51,543.24L1131.00,543.49L1132.48,543.75L1133.96,544.01L1135.44,544.28L1136.91,544.54L1138.39,544.81L1139.87,545.08L1141.35,545.34L1142.83,545.61L1144.30,545.87L1145.78,546.14L1147.26,546.40L1148.74,546.66L1150.22,546.92L1151.70,547.18L1153.18,547.44L1154.66,547.70L1156.14,547.96L1157.62,548.21L1159.10,548.47L1160.58,548.72L1162.07,548.98L1163.55,549.23L1165.03,549.48L1166.51,549.73L1167.99,549.98L1169.48,550.23L1170.96,550.47L1172.44,550.72L1173.92,550.97L1175.41,551.21L1176.89,551.45L1178.37,551.70L1179.86,551.94L1181.34,552.18L1182.83,552.42L1184.31,552.66L1185.79,552.89L1187.28,553.13L1188.76,553.36L1190.25,553.60L1191.74,553.83L1193.22,554.07L1194.71,554.30L1196.19,554.53L1197.68,554.76L1199.16,554.99L1200.65,555.21L1202.14,555.44L1203.62,555.67L1205.11,555.89L1206.60,556.12L1208.09,556.34L1209.57,556.56L1211.06,556.78L1212.55,557.00L1214.04,557.22L1215.53,557.44L1217.01,557.66L1218.50,557.87L1219.99,558.09L1221.48,558.30L1222.97,558.52L1224.46,558.73L1225.95,558.94L1227.44,559.15L1228.93,559.36L1230.42,559.57L1231.91,559.78L1233.40,559.99L1234.89,560.19L1236.38,560.40L1237.87,560.60L1239.36,560.80L1240.85,561.01L1242.34,561.21L1243.83,561.41L1245.33,561.61L1246.82,561.81L1248.31,562.00L1249.80,562.20L1251.29,562.40L1252.78,562.59L1254.28,562.79L1255.77,562.98L1257.26,563.17L1258.75,563.36L1260.25,563.55L1261.74,563.74L1263.23,563.93L1264.73,564.12L1266.22,564.30L1267.71,564.49L1269.21,564.67L1270.70,564.86L1272.19,565.04L1273.69,565.22L1275.18,565.40L1276.68,565.58L1278.17,565.76L1279.67,565.94L1281.16,566.12L1282.65,566.30L1284.15,566.47L1285.64,566.65L1287.14,566.82L1288.63,566.99L1290.13,567.16L1291.62,567.34L1293.12,567.51L1294.61,567.67L1296.11,567.84L1297.61,568.01L1299.10,568.18L1300.60,568.34L1302.09,568.51L1303.59,568.67L1305.09,568.83L1306.58,569.00L1308.08,569.16L1309.57,569.32L1311.07,569.48L1312.57,569.64L1314.06,569.79L1315.56,569.95L1317.06,570.11L1318.55,570.26L1320.05,570.41L1321.55,570.57L1323.05,570.72L1324.54,570.87L1326.04,571.02L1327.54,571.17L1329.04,571.32L1330.53,571.47L1332.03,571.61L1333.53,571.76L1335.03,571.91L1336.52,572.05L1338.02,572.19L1339.52,572.34L1341.02,572.48L1342.52,572.62L1344.01,572.76L1345.51,572.90L1347.01,573.04L1348.51,573.18L1350.01,573.31L1351.51,573.45L1353.00,573.59L1354.50,573.72L1356.00,573.85L1357.50,573.99L1359.00,574.12L1360.50,574.25L1362.00,574.38L1363.49,574.51L1364.99,574.64L1366.49,574.77L1367.99,574.90L1369.49,575.03L1370.99,575.15L1372.49,575.28L1373.99,575.40L1375.49,575.53L1376.99,575.65L1378.49,575.78L1379.99,575.90L1381.49,576.02L1382.99,576.14L1384.49,576.26L1385.99,576.38L1387.49,576.50L1388.99,576.62L1390.49,576.74L1391.99,576.86L1393.49,576.97L1394.99,577.09L1396.49,577.21L1397.99,577.32L1399.49,577.43L1400.99,577.55L1402.49,577.66L1403.99,577.77L1405.49,577.89L1406.99,578.00L1408.49,578.11L1409.99,578.22L1411.49,578.33L1412.99,578.44L1414.49,578.55L1415.99,578.66L1417.49,578.76L1418.99,578.87L1420.49,578.98L1422.00,579.08L1423.50,579.19L1425.00,579.30L1426.50,579.40L1428.00,579.51L1429.50,579.61L1431.00,579.71L1432.50,579.82L1434.00,579.92L1435.51,580.02L1437.01,580.12L1438.51,580.22L1440.01,580.32L1441.51,580.42L1443.01,580.52L1444.51,580.62L1446.01,580.72L1447.52,580.82L1449.02,580.92L1450.52,581.02L1452.02,581.12L1453.52,581.21L1455.02,581.31L1456.53,581.41L1458.03,581.50L1459.53,581.60L1461.03,581.69L1462.53,581.79L1464.03,581.88L1465.54,581.98L1467.04,582.07L1468.54,582.17L1470.04,582.26L1471.54,582.35L1473.05,582.45L1474.55,582.54L1476.05,582.63L1477.55,582.72L1479.05,582.81L1480.56,582.91L1482.06,583.00L1483.56,583.09L1485.06,583.18L1486.56,583.27L1488.07,583.36L1489.57,583.45L1491.07,583.54L1492.57,583.63L1494.07,583.72L1495.58,583.81L1497.08,583.90L1498.58,583.99L1500.08,584.07L1501.59,584.16L1503.09,584.25L1504.59,584.34L1506.09,584.43L1507.59,584.51L1509.10,584.60L1510.60,584.69L1512.10,584.78L1513.60,584.86L1515.11,584.95L1516.61,585.04L1518.11,585.13L1519.61,585.21L1521.12,585.30L1522.62,585.39L1524.12,585.47L1525.62,585.56L1527.12,585.64L1528.63,585.73L1530.13,585.82L1531.63,585.90L1533.13,585.99L1534.64,586.07L1536.14,586.16L1537.64,586.25L1539.14,586.33L1540.65,586.42L1542.15,586.50L1543.65,586.59L1545.15,586.67L1546.66,586.76L1548.16,586.85L1549.66,586.93L1551.16,587.02L1552.67,587.10L1554.17,587.19L1555.67,587.27L1557.17,587.35L1558.67,587.44L1560.18,587.52L1561.68,587.61L1563.18,587.69L1564.68,587.77L1566.19,587.86L1567.69,587.94L1569.19,588.02L1570.69,588.11L1572.20,588.19L1573.70,588.27L1575.20,588.35L1576.70,588.44L1578.21,588.52L1579.71,588.60L1581.21,588.68L1582.71,588.76L1584.22,588.84L1585.72,588.92L1587.22,589.00L1588.72,589.08L1590.23,589.16L1591.73,589.24L1593.23,589.32L1594.73,589.40L1596.24,589.48L1597.74,589.56L1599.24,589.63L1600.75,589.71L1602.25,589.79L1603.75,589.87L1605.25,589.94L1606.76,590.02L1608.26,590.09L1609.76,590.17L1611.26,590.24L1612.77,590.32L1614.27,590.39L1615.77,590.47L1617.28,590.54L1618.78,590.61L1620.28,590.69L1621.78,590.76L1623.29,590.83L1624.79,590.90L1626.29,590.97L1627.80,591.04L1629.30,591.11L1630.80,591.18L1632.30,591.25L1633.81,591.32L1635.31,591.39L1636.81,591.45L1638.32,591.52L1639.82,591.59L1641.32,591.65L1642.83,591.72L1644.33,591.78L1645.83,591.85L1647.34,591.91L1648.84,591.98L1650.34,592.04L1651.85,592.10L1653.35,592.16L1654.85,592.22L1656.36,592.28L1657.86,592.34L1659.36,592.40L1660.87,592.46L1662.37,592.52L1663.87,592.58L1665.38,592.64L1666.88,592.69L1668.38,592.75L1669.89,592.80L1671.39,592.86L1672.89,592.91L1674.40,592.96L1675.90,593.02L1677.41,593.07L1678.91,593.12L1680.41,593.17L1681.92,593.22L1683.42,593.27L1684.92,593.32L1686.43,593.37L1687.93,593.41L1689.44,593.46L1690.94,593.50L1692.44,593.55L1693.95,593.59L1695.45,593.64L1696.96,593.68L1698.46,593.72L1699.96,593.76L1701.47,593.80L1702.97,593.84L1704.48,593.88L1705.98,593.92L1707.49,593.96L1708.99,593.99L1710.49,594.03L1712.00,594.06L1713.50,594.10L1715.01,594.13L1716.51,594.16L1718.02,594.20L1719.52,594.23L1721.03,594.26L1722.53,594.29L1724.04,594.31L1725.54,594.34L1727.05,594.37L1728.55,594.39L1730.05,594.42L1731.56,594.44L1733.06,594.46L1734.57,594.49L1736.07,594.51L1737.58,594.53L1739.08,594.55L1740.59,594.57L1742.09,594.58L1743.60,594.60" fill="none" stroke="#61D04F" stroke-width="3" stroke-linecap="round" stroke-linejoin="round" stroke-dasharray="9 15" pathLength="744.700" clip-path="url(#cb)"/>
<path d="M1066.40,104.30L1066.43,105.80L1066.45,107.30L1066.48,108.80L1066.50,110.30L1066.53,111.80L1066.55,113.30L1066.57,114.80L1066.60,116.30L1066.62,117.81L1066.64,119.31L1066.66,120.81L1066.69,122.31L1066.71,123.81L1066.73,125.31L1066.75,126.81L1066.77,128.31L1066.79,129.82L1066.82,131.32L1066.84,132.82L1066.86,134.32L1066.88,135.82L1066.90,137.32L1066.92,138.83L1066.94,140.33L1066.96,141.83L1066.97,143.33L1066.99,144.84L1067.01,146.34L1067.03,147.84L1067.05,149.34L1067.07,150.84L1067.09,152.35L1067.11,153.85L1067.13,155.35L1067.14,156.86L1067.16,158.36L1067.18,159.86L1067.20,161.36L1067.22,162.87L1067.23,164.37L1067.25,165.87L1067.27,167.38L1067.29,168.88L1067.31,170.38L1067.32,171.89L1067.34,173.39L1067.36,174.89L1067.38,176.40L1067.40,177.90L1067.41,179.40L1067.43,180.91L1067.45,182.41L1067.47,183.91L1067.49,185.42L1067.50,186.92L1067.52,188.42L1067.54,189.93L1067.56,191.43L1067.58,192.93L1067.60,194.44L1067.62,195.94L1067.64,197.45L1067.65,198.95L1067.67,200.45L1067.69,201.96L1067.71,203.46L1067.73,204.96L1067.75,206.47L1067.77,207.97L1067.79,209.48L1067.81,210.98L1067.83,212.48L1067.85,213.99L1067.88,215.49L1067.90,216.99L1067.92,218.50L1067.94,220.00L1067.96,221.51L1067.99,223.01L1068.01,224.51L1068.03,226.02L1068.05,227.52L1068.08,229.02L1068.10,230.53L1068.12,232.03L1068.15,233.54L1068.17,235.04L1068.20,236.54L1068.22,238.05L1068.25,239.55L1068.28,241.05L1068.30,242.56L1068.33,244.06L1068.36,245.56L1068.38,247.07L1068.41,248.57L1068.44,250.08L1068.47,251.58L1068.50,253.08L1068.53,254.59L1068.56,256.09L1068.59,257.59L1068.62,259.10L1068.65,260.60L1068.68,262.10L1068.71,263.60L1068.75,265.11L1068.78,266.61L1068.81,268.11L1068.85,269.62L1068.88,271.12L1068.92,272.62L1068.95,274.13L1068.99,275.63L1069.03,277.13L1069.06,278.63L1069.10,280.14L1069.14,281.64L1069.18,283.14L1069.22,284.64L1069.26,286.15L1069.30,287.65L1069.34,289.15L1069.38,290.65L1069.43,292.15L1069.47,293.66L1069.51,295.16L1069.56,296.66L1069.60,298.16L1069.65,299.66L1069.69,301.16L1069.74,302.67L1069.79,304.17L1069.84,305.67L1069.89,307.17L1069.94,308.67L1069.99,310.17L1070.04,311.67L1070.09,313.18L1070.14,314.68L1070.20,316.18L1070.25,317.68L1070.31,319.18L1070.36,320.68L1070.42,322.18L1070.48,323.68L1070.53,325.18L1070.59,326.68L1070.65,328.18L1070.71,329.68L1070.77,331.18L1070.84,332.68L1070.90,334.18L1070.96,335.68L1071.03,337.18L1071.09,338.68L1071.16,340.18L1071.23,341.67L1071.30,343.17L1071.36,344.67L1071.43,346.17L1071.51,347.67L1071.58,349.17L1071.65,350.67L1071.72,352.16L1071.80,353.66L1071.87,355.16L1071.95,356.66L1072.03,358.16L1072.11,359.65L1072.18,361.15L1072.26,362.65L1072.35,364.15L1072.43,365.64L1072.51,367.14L1072.60,368.64L1072.68,370.13L1072.77,371.63L1072.85,373.13L1072.94,374.62L1073.03,376.12L1073.12,377.61L1073.21,379.11L1073.31,380.61L1073.40,382.10L1073.50,383.60L1073.59,385.09L1073.69,386.59L1073.79,388.08L1073.89,389.58L1073.99,391.07L1074.09,392.57L1074.20,394.06L1074.30,395.55L1074.41,397.05L1074.52,398.54L1074.63,400.04L1074.74,401.53L1074.86,403.03L1074.98,404.52L1075.10,406.01L1075.22,407.51L1075.34,409.00L1075.47,410.50L1075.60,411.99L1075.73,413.49L1075.86,414.98L1076.00,416.47L1076.14,417.97L1076.28,419.46L1076.43,420.96L1076.58,422.45L1076.73,423.95L1076.89,425.44L1077.04,426.94L1077.20,428.44L1077.37,429.93L1077.54,431.43L1077.71,432.92L1077.88,434.42L1078.06,435.92L1078.25,437.41L1078.43,438.91L1078.62,440.41L1078.82,441.90L1079.02,443.40L1079.22,444.90L1079.43,446.40L1079.64,447.90L1079.85,449.40L1080.07,450.90L1080.30,452.39L1080.53,453.89L1080.76,455.39L1081.00,456.90L1081.24,458.40L1081.49,459.90L1081.74,461.40L1082.00,462.90L1082.27,464.40L1082.54,465.89L1082.82,467.39L1083.11,468.89L1083.41,470.38L1083.71,471.87L1084.02,473.36L1084.34,474.85L1084.66,476.33L1085.00,477.82L1085.35,479.30L1085.70,480.77L1086.07,482.24L1086.44,483.71L1086.83,485.18L1087.22,486.64L1087.63,488.10L1088.05,489.55L1088.48,491.00L1088.92,492.45L1089.37,493.88L1089.84,495.32L1090.32,496.75L1090.81,498.17L1091.32,499.59L1091.84,501.00L1092.37,502.40L1092.92,503.80L1093.48,505.19L1094.06,506.57L1094.65,507.95L1095.26,509.32L1095.88,510.68L1096.52,512.03L1097.17,513.38L1097.85,514.72L1098.53,516.05L1099.24,517.37L1099.96,518.68L1100.70,519.98L1101.45,521.27L1102.22,522.56L1103.00,523.83L1103.80,525.10L1104.62,526.35L1105.45,527.60L1106.29,528.83L1107.15,530.05L1108.03,531.27L1108.92,532.47L1109.82,533.66L1110.74,534.84L1111.67,536.00L1112.62,537.16L1113.58,538.30L1114.55,539.43L1115.54,540.55L1116.54,541.66L1117.55,542.75L1118.58,543.83L1119.62,544.90L1120.67,545.95L1121.74,546.99L1122.82,548.02L1123.91,549.03L1125.01,550.03L1126.12,551.02L1127.25,551.99L1128.39,552.94L1129.54,553.88L1130.70,554.80L1131.87,555.71L1133.05,556.61L1134.25,557.48L1135.45,558.35L1136.67,559.19L1137.89,560.02L1139.13,560.83L1140.38,561.63L1141.64,562.41L1142.90,563.17L1144.18,563.92L1145.47,564.64L1146.76,565.35L1148.07,566.04L1149.38,566.72L1150.71,567.38L1152.04,568.02L1153.38,568.64L1154.73,569.25L1156.08,569.85L1157.45,570.43L1158.82,570.99L1160.20,571.54L1161.58,572.08L1162.98,572.60L1164.38,573.11L1165.78,573.61L1167.19,574.10L1168.61,574.57L1170.03,575.03L1171.46,575.48L1172.90,575.92L1174.34,576.35L1175.78,576.77L1177.23,577.18L1178.68,577.58L1180.14,577.97L1181.59,578.35L1183.06,578.73L1184.53,579.09L1185.99,579.45L1187.47,579.80L1188.94,580.15L1190.42,580.48L1191.90,580.82L1193.38,581.14L1194.87,581.46L1196.35,581.78L1197.84,582.09L1199.32,582.40L1200.81,582.70L1202.30,583.00L1203.79,583.30L1205.28,583.60L1206.77,583.89L1208.26,584.18L1209.74,584.46L1211.23,584.75L1212.72,585.03L1214.21,585.30L1215.70,585.58L1217.19,585.85L1218.68,586.12L1220.17,586.39L1221.66,586.66L1223.15,586.92L1224.64,587.18L1226.13,587.44L1227.62,587.69L1229.11,587.94L1230.60,588.19L1232.10,588.44L1233.59,588.69L1235.08,588.93L1236.57,589.17L1238.06,589.41L1239.55,589.64L1241.04,589.87L1242.53,590.10L1244.03,590.33L1245.52,590.56L1247.01,590.78L1248.50,591.00L1249.99,591.22L1251.48,591.44L1252.98,591.65L1254.47,591.86L1255.96,592.07L1257.45,592.28L1258.95,592.48L1260.44,592.69L1261.93,592.89L1263.43,593.09L1264.92,593.28L1266.41,593.48L1267.90,593.67L1269.40,593.86L1270.89,594.05L1272.38,594.23L1273.88,594.42L1275.37,594.60L1276.86,594.78L1278.36,594.96L1279.85,595.13L1281.35,595.31L1282.84,595.48L1284.33,595.65L1285.83,595.82L1287.32,595.98L1288.82,596.15L1290.31,596.31L1291.81,596.47L1293.30,596.63L1294.80,596.78L1296.29,596.94L1297.79,597.09L1299.28,597.24L1300.78,597.39L1302.27,597.54L1303.77,597.69L1305.26,597.83L1306.76,597.97L1308.25,598.11L1309.75,598.25L1311.24,598.39L1312.74,598.53L1314.23,598.66L1315.73,598.79L1317.23,598.92L1318.72,599.05L1320.22,599.18L1321.71,599.30L1323.21,599.43L1324.71,599.55L1326.20,599.67L1327.70,599.79L1329.20,599.91L1330.69,600.03L1332.19,600.14L1333.69,600.26L1335.18,600.37L1336.68,600.48L1338.18,600.59L1339.67,600.70L1341.17,600.80L1342.67,600.91L1344.17,601.01L1345.66,601.12L1347.16,601.22L1348.66,601.32L1350.16,601.42L1351.65,601.51L1353.15,601.61L1354.65,601.70L1356.15,601.80L1357.65,601.89L1359.14,601.98L1360.64,602.07L1362.14,602.16L1363.64,602.25L1365.14,602.33L1366.63,602.42L1368.13,602.50L1369.63,602.59L1371.13,602.67L1372.63,602.75L1374.13,602.83L1375.62,602.91L1377.12,602.99L1378.62,603.06L1380.12,603.14L1381.62,603.22L1383.12,603.29L1384.62,603.36L1386.12,603.44L1387.62,603.51L1389.12,603.58L1390.61,603.65L1392.11,603.71L1393.61,603.78L1395.11,603.85L1396.61,603.92L1398.11,603.98L1399.61,604.05L1401.11,604.11L1402.61,604.17L1404.11,604.23L1405.61,604.30L1407.11,604.36L1408.61,604.42L1410.11,604.48L1411.61,604.53L1413.11,604.59L1414.61,604.65L1416.11,604.71L1417.61,604.76L1419.11,604.82L1420.61,604.87L1422.11,604.93L1423.61,604.98L1425.11,605.03L1426.61,605.09L1428.11,605.14L1429.61,605.19L1431.11,605.24L1432.61,605.29L1434.12,605.34L1435.62,605.39L1437.12,605.44L1438.62,605.49L1440.12,605.54L1441.62,605.59L1443.12,605.64L1444.62,605.68L1446.12,605.73L1447.62,605.78L1449.13,605.83L1450.63,605.87L1452.13,605.92L1453.63,605.96L1455.13,606.01L1456.63,606.05L1458.13,606.10L1459.63,606.15L1461.14,606.19L1462.64,606.23L1464.14,606.28L1465.64,606.32L1467.14,606.37L1468.64,606.41L1470.14,606.46L1471.65,606.50L1473.15,606.54L1474.65,606.59L1476.15,606.63L1477.65,606.68L1479.16,606.72L1480.66,606.76L1482.16,606.81L1483.66,606.85L1485.16,606.90L1486.66,606.94L1488.17,606.98L1489.67,607.03L1491.17,607.07L1492.67,607.12L1494.18,607.16L1495.68,607.20L1497.18,607.25L1498.68,607.29L1500.18,607.34L1501.69,607.38L1503.19,607.42L1504.69,607.47L1506.19,607.51L1507.70,607.56L1509.20,607.60L1510.70,607.64L1512.20,607.69L1513.71,607.73L1515.21,607.78L1516.71,607.82L1518.21,607.86L1519.72,607.91L1521.22,607.95L1522.72,608.00L1524.22,608.04L1525.73,608.08L1527.23,608.13L1528.73,608.17L1530.23,608.21L1531.74,608.26L1533.24,608.30L1534.74,608.34L1536.24,608.39L1537.75,608.43L1539.25,608.47L1540.75,608.52L1542.26,608.56L1543.76,608.60L1545.26,608.65L1546.76,608.69L1548.27,608.73L1549.77,608.78L1551.27,608.82L1552.78,608.86L1554.28,608.90L1555.78,608.95L1557.28,608.99L1558.79,609.03L1560.29,609.07L1561.79,609.11L1563.30,609.16L1564.80,609.20L1566.30,609.24L1567.80,609.28L1569.31,609.32L1570.81,609.36L1572.31,609.41L1573.82,609.45L1575.32,609.49L1576.82,609.53L1578.33,609.57L1579.83,609.61L1581.33,609.65L1582.84,609.69L1584.34,609.73L1585.84,609.77L1587.34,609.81L1588.85,609.85L1590.35,609.89L1591.85,609.93L1593.36,609.97L1594.86,610.01L1596.36,610.05L1597.87,610.09L1599.37,610.13L1600.87,610.17L1602.37,610.21L1603.88,610.24L1605.38,610.28L1606.88,610.32L1608.39,610.36L1609.89,610.40L1611.39,610.43L1612.90,610.47L1614.40,610.51L1615.90,610.55L1617.41,610.58L1618.91,610.62L1620.41,610.66L1621.91,610.69L1623.42,610.73L1624.92,610.76L1626.42,610.80L1627.93,610.84L1629.43,610.87L1630.93,610.91L1632.43,610.94L1633.94,610.98L1635.44,611.01L1636.94,611.04L1638.45,611.08L1639.95,611.11L1641.45,611.15L1642.96,611.18L1644.46,611.21L1645.96,611.25L1647.46,611.28L1648.97,611.31L1650.47,611.34L1651.97,611.38L1653.47,611.41L1654.98,611.44L1656.48,611.47L1657.98,611.50L1659.49,611.53L1660.99,611.56L1662.49,611.59L1663.99,611.62L1665.50,611.65L1667.00,611.68L1668.50,611.71L1670.00,611.74L1671.51,611.77L1673.01,611.80L1674.51,611.83L1676.01,611.85L1677.52,611.88L1679.02,611.91L1680.52,611.94L1682.02,611.96L1683.53,611.99L1685.03,612.02L1686.53,612.04L1688.03,612.07L1689.54,612.09L1691.04,612.12L1692.54,612.14L1694.04,612.17L1695.54,612.19L1697.05,612.22L1698.55,612.24L1700.05,612.26L1701.55,612.29L1703.06,612.31L1704.56,612.33L1706.06,612.35L1707.56,612.37L1709.06,612.40L1710.57,612.42L1712.07,612.44L1713.57,612.46L1715.07,612.48L1716.57,612.50L1718.07,612.52L1719.58,612.54L1721.08,612.55L1722.58,612.57L1724.08,612.59L1725.58,612.61L1727.08,612.63L1728.59,612.64L1730.09,612.66L1731.59,612.68L1733.09,612.69L1734.59,612.71L1736.09,612.72L1737.59,612.74L1739.10,612.75L1740.60,612.77L1742.10,612.78L1743.60,612.79" fill="none" stroke="#2297E6" stroke-width="3" stroke-linecap="round" stroke-linejoin="round" stroke-dasharray="0.01 12" pathLength="1088.900" clip-path="url(#cb)"/>
<path d="M1142.19,-12.00L1142.29,-10.50L1142.41,-9.00L1142.53,-7.50L1142.65,-6.01L1142.78,-4.51L1142.91,-3.02L1143.05,-1.52L1143.19,-0.03L1143.33,1.47L1143.48,2.96L1143.64,4.46L1143.79,5.95L1143.95,7.44L1144.12,8.93L1144.29,10.42L1144.46,11.91L1144.64,13.41L1144.82,14.89L1145.01,16.38L1145.20,17.87L1145.39,19.36L1145.59,20.85L1145.79,22.34L1145.99,23.82L1146.20,25.31L1146.41,26.80L1146.62,28.28L1146.84,29.77L1147.06,31.26L1147.28,32.74L1147.50,34.22L1147.73,35.71L1147.96,37.19L1148.20,38.68L1148.44,40.16L1148.68,41.64L1148.92,43.12L1149.16,44.61L1149.41,46.09L1149.66,47.57L1149.92,49.05L1150.17,50.53L1150.43,52.01L1150.69,53.49L1150.95,54.97L1151.22,56.45L1151.48,57.93L1151.75,59.41L1152.02,60.89L1152.29,62.37L1152.57,63.85L1152.85,65.33L1153.12,66.80L1153.40,68.28L1153.69,69.76L1153.97,71.24L1154.25,72.71L1154.54,74.19L1154.83,75.67L1155.12,77.14L1155.41,78.62L1155.70,80.10L1155.99,81.57L1156.29,83.05L1156.58,84.52L1156.88,86.00L1157.17,87.47L1157.47,88.95L1157.77,90.42L1158.07,91.90L1158.37,93.37L1158.67,94.85L1158.98,96.32L1159.28,97.80L1159.59,99.27L1159.89,100.75L1160.20,102.22L1160.51,103.69L1160.82,105.17L1161.13,106.64L1161.44,108.11L1161.76,109.58L1162.07,111.06L1162.39,112.53L1162.71,114.00L1163.03,115.47L1163.35,116.94L1163.67,118.41L1163.99,119.88L1164.31,121.35L1164.64,122.82L1164.97,124.29L1165.30,125.76L1165.63,127.23L1165.96,128.70L1166.29,130.16L1166.63,131.63L1166.96,133.10L1167.30,134.57L1167.64,136.03L1167.98,137.50L1168.32,138.96L1168.67,140.43L1169.01,141.89L1169.36,143.36L1169.71,144.82L1170.06,146.28L1170.42,147.74L1170.77,149.21L1171.13,150.67L1171.48,152.13L1171.84,153.59L1172.21,155.05L1172.57,156.51L1172.94,157.96L1173.30,159.42L1173.67,160.88L1174.05,162.34L1174.42,163.79L1174.80,165.25L1175.17,166.70L1175.55,168.16L1175.93,169.61L1176.32,171.06L1176.70,172.52L1177.09,173.97L1177.48,175.42L1177.87,176.87L1178.27,178.32L1178.67,179.77L1179.06,181.22L1179.47,182.66L1179.87,184.11L1180.28,185.56L1180.68,187.00L1181.09,188.45L1181.51,189.89L1181.92,191.33L1182.34,192.78L1182.76,194.22L1183.18,195.66L1183.61,197.10L1184.03,198.54L1184.46,199.97L1184.90,201.41L1185.33,202.85L1185.77,204.28L1186.21,205.72L1186.65,207.15L1187.10,208.58L1187.55,210.02L1188.00,211.45L1188.45,212.88L1188.91,214.30L1189.37,215.73L1189.83,217.16L1190.30,218.58L1190.77,220.01L1191.24,221.43L1191.72,222.86L1192.19,224.28L1192.68,225.70L1193.16,227.12L1193.65,228.53L1194.14,229.95L1194.63,231.37L1195.13,232.78L1195.63,234.20L1196.13,235.61L1196.64,237.02L1197.15,238.43L1197.66,239.84L1198.18,241.25L1198.70,242.65L1199.22,244.06L1199.75,245.46L1200.28,246.87L1200.81,248.27L1201.35,249.67L1201.89,251.07L1202.44,252.46L1202.99,253.86L1203.54,255.25L1204.09,256.65L1204.65,258.04L1205.22,259.43L1205.78,260.82L1206.36,262.21L1206.93,263.59L1207.51,264.98L1208.09,266.36L1208.68,267.74L1209.27,269.13L1209.86,270.50L1210.46,271.88L1211.06,273.26L1211.67,274.63L1212.28,276.01L1212.90,277.38L1213.52,278.75L1214.14,280.12L1214.77,281.48L1215.40,282.85L1216.03,284.21L1216.67,285.58L1217.32,286.94L1217.97,288.29L1218.62,289.65L1219.28,291.01L1219.94,292.36L1220.61,293.71L1221.28,295.06L1221.96,296.41L1222.64,297.76L1223.32,299.10L1224.01,300.45L1224.70,301.79L1225.40,303.13L1226.11,304.47L1226.81,305.80L1227.53,307.14L1228.24,308.47L1228.96,309.79L1229.69,311.12L1230.42,312.45L1231.16,313.77L1231.90,315.09L1232.64,316.40L1233.39,317.72L1234.15,319.03L1234.91,320.34L1235.67,321.64L1236.44,322.95L1237.21,324.25L1237.99,325.55L1238.77,326.84L1239.56,328.13L1240.35,329.42L1241.15,330.71L1241.95,331.99L1242.76,333.27L1243.57,334.54L1244.39,335.82L1245.21,337.08L1246.03,338.35L1246.87,339.61L1247.70,340.87L1248.54,342.13L1249.39,343.38L1250.24,344.62L1251.09,345.87L1251.95,347.11L1252.82,348.34L1253.69,349.58L1254.57,350.80L1255.45,352.03L1256.33,353.25L1257.22,354.47L1258.12,355.68L1259.02,356.88L1259.92,358.09L1260.83,359.29L1261.75,360.48L1262.67,361.67L1263.59,362.86L1264.52,364.04L1265.46,365.21L1266.40,366.38L1267.35,367.55L1268.30,368.71L1269.25,369.87L1270.21,371.02L1271.18,372.17L1272.15,373.31L1273.13,374.45L1274.11,375.58L1275.09,376.71L1276.09,377.83L1277.08,378.95L1278.09,380.06L1279.09,381.16L1280.11,382.26L1281.12,383.36L1282.15,384.45L1283.17,385.54L1284.21,386.62L1285.24,387.69L1286.28,388.76L1287.33,389.82L1288.38,390.88L1289.44,391.94L1290.50,392.99L1291.57,394.03L1292.64,395.07L1293.71,396.11L1294.79,397.14L1295.88,398.16L1296.97,399.18L1298.06,400.19L1299.16,401.20L1300.26,402.21L1301.37,403.21L1302.48,404.20L1303.60,405.19L1304.72,406.17L1305.84,407.15L1306.97,408.13L1308.11,409.10L1309.25,410.06L1310.39,411.02L1311.53,411.98L1312.68,412.93L1313.84,413.87L1315.00,414.82L1316.16,415.75L1317.33,416.68L1318.50,417.61L1319.67,418.53L1320.85,419.45L1322.04,420.36L1323.22,421.27L1324.41,422.17L1325.61,423.07L1326.81,423.96L1328.01,424.85L1329.21,425.73L1330.42,426.61L1331.64,427.49L1332.85,428.36L1334.07,429.22L1335.30,430.08L1336.53,430.94L1337.76,431.79L1338.99,432.64L1340.23,433.48L1341.47,434.32L1342.72,435.15L1343.97,435.98L1345.22,436.80L1346.47,437.62L1347.73,438.44L1349.00,439.25L1350.26,440.05L1351.53,440.85L1352.80,441.65L1354.08,442.44L1355.35,443.23L1356.64,444.02L1357.92,444.80L1359.21,445.57L1360.50,446.34L1361.79,447.11L1363.09,447.87L1364.39,448.63L1365.69,449.38L1366.99,450.13L1368.30,450.87L1369.61,451.61L1370.92,452.35L1372.24,453.08L1373.56,453.81L1374.88,454.53L1376.20,455.25L1377.53,455.97L1378.86,456.68L1380.19,457.38L1381.53,458.09L1382.86,458.78L1384.20,459.48L1385.55,460.17L1386.89,460.85L1388.24,461.53L1389.59,462.21L1390.94,462.88L1392.29,463.55L1393.65,464.22L1395.01,464.88L1396.37,465.54L1397.73,466.19L1399.09,466.84L1400.46,467.48L1401.83,468.12L1403.20,468.76L1404.57,469.39L1405.95,470.02L1407.33,470.64L1408.71,471.26L1410.09,471.88L1411.47,472.49L1412.86,473.10L1414.24,473.71L1415.63,474.31L1417.02,474.91L1418.41,475.50L1419.81,476.09L1421.20,476.67L1422.60,477.26L1424.00,477.83L1425.40,478.41L1426.80,478.98L1428.20,479.54L1429.61,480.11L1431.01,480.67L1432.42,481.22L1433.83,481.77L1435.24,482.32L1436.65,482.86L1438.07,483.40L1439.48,483.94L1440.90,484.47L1442.31,485.00L1443.73,485.53L1445.15,486.05L1446.57,486.57L1448.00,487.08L1449.42,487.59L1450.84,488.10L1452.27,488.60L1453.69,489.10L1455.12,489.60L1456.55,490.09L1457.98,490.58L1459.41,491.07L1460.84,491.55L1462.27,492.03L1463.70,492.50L1465.13,492.98L1466.57,493.44L1468.00,493.91L1469.44,494.37L1470.87,494.83L1472.31,495.28L1473.74,495.73L1475.18,496.18L1476.62,496.63L1478.06,497.07L1479.50,497.50L1480.94,497.94L1482.38,498.37L1483.82,498.80L1485.26,499.22L1486.70,499.64L1488.14,500.06L1489.59,500.48L1491.03,500.89L1492.48,501.30L1493.92,501.71L1495.37,502.11L1496.81,502.51L1498.26,502.91L1499.71,503.30L1501.15,503.69L1502.60,504.08L1504.05,504.47L1505.50,504.85L1506.95,505.23L1508.40,505.61L1509.85,505.99L1511.30,506.36L1512.75,506.73L1514.20,507.10L1515.66,507.46L1517.11,507.82L1518.56,508.18L1520.02,508.54L1521.47,508.89L1522.93,509.25L1524.38,509.60L1525.84,509.94L1527.30,510.29L1528.75,510.63L1530.21,510.97L1531.67,511.31L1533.13,511.65L1534.59,511.98L1536.05,512.32L1537.51,512.65L1538.97,512.97L1540.43,513.30L1541.89,513.62L1543.35,513.94L1544.82,514.26L1546.28,514.58L1547.74,514.90L1549.21,515.21L1550.67,515.53L1552.13,515.84L1553.60,516.14L1555.06,516.45L1556.53,516.76L1558.00,517.06L1559.46,517.36L1560.93,517.66L1562.40,517.96L1563.87,518.26L1565.34,518.55L1566.80,518.85L1568.27,519.14L1569.74,519.43L1571.21,519.72L1572.68,520.01L1574.16,520.30L1575.63,520.58L1577.10,520.87L1578.57,521.15L1580.04,521.43L1581.52,521.71L1582.99,521.99L1584.46,522.27L1585.94,522.55L1587.41,522.82L1588.89,523.10L1590.36,523.37L1591.84,523.64L1593.31,523.91L1594.79,524.19L1596.27,524.46L1597.74,524.72L1599.22,524.99L1600.70,525.26L1602.18,525.53L1603.66,525.79L1605.14,526.06L1606.62,526.32L1608.09,526.59L1609.57,526.85L1611.05,527.11L1612.54,527.37L1614.02,527.63L1615.50,527.89L1616.98,528.15L1618.46,528.41L1619.94,528.67L1621.43,528.93L1622.91,529.19L1624.39,529.45L1625.88,529.71L1627.36,529.96L1628.84,530.22L1630.33,530.48L1631.81,530.73L1633.30,530.99L1634.78,531.24L1636.27,531.49L1637.75,531.75L1639.24,532.00L1640.73,532.25L1642.21,532.50L1643.70,532.75L1645.19,533.00L1646.67,533.25L1648.16,533.49L1649.65,533.74L1651.14,533.99L1652.62,534.23L1654.11,534.47L1655.60,534.72L1657.09,534.96L1658.58,535.20L1660.07,535.44L1661.56,535.67L1663.05,535.91L1664.54,536.15L1666.03,536.38L1667.52,536.61L1669.01,536.85L1670.50,537.08L1671.99,537.31L1673.48,537.53L1674.97,537.76L1676.46,537.98L1677.95,538.21L1679.44,538.43L1680.93,538.65L1682.42,538.87L1683.92,539.09L1685.41,539.30L1686.90,539.52L1688.39,539.73L1689.88,539.94L1691.37,540.15L1692.87,540.36L1694.36,540.56L1695.85,540.77L1697.34,540.97L1698.83,541.17L1700.33,541.37L1701.82,541.57L1703.31,541.76L1704.80,541.95L1706.30,542.15L1707.79,542.33L1709.28,542.52L1710.77,542.71L1712.27,542.89L1713.76,543.07L1715.25,543.25L1716.74,543.42L1718.24,543.60L1719.73,543.77L1721.22,543.94L1722.71,544.11L1724.20,544.27L1725.70,544.44L1727.19,544.60L1728.68,544.75L1730.17,544.91L1731.67,545.06L1733.16,545.21L1734.65,545.36L1736.14,545.51L1737.63,545.65L1739.12,545.79L1740.62,545.93L1742.11,546.07L1743.60,546.20" fill="none" stroke="#28E2E5" stroke-width="3" stroke-linecap="round" stroke-linejoin="round" stroke-dasharray="0.01 12 9 12" stroke-dashoffset="25.096" clip-path="url(#cb)"/>
<path d="M1145.80,591.60L1148.00,592.30L1149.90,583.80L1152.30,586.40L1154.80,582.60L1156.29,582.45L1157.78,582.29L1159.27,582.12L1160.76,581.96L1162.25,581.79L1163.74,581.62L1165.23,581.45L1166.72,581.28L1168.22,581.11L1169.71,580.93L1171.20,580.75L1172.69,580.57L1174.18,580.39L1175.67,580.20L1177.16,580.02L1178.65,579.83L1180.14,579.64L1181.63,579.45L1183.12,579.26L1184.61,579.07L1186.10,578.87L1187.59,578.68L1189.08,578.48L1190.57,578.28L1192.06,578.08L1193.55,577.88L1195.04,577.68L1196.53,577.47L1198.02,577.27L1199.51,577.07L1201.00,576.86L1202.49,576.65L1203.98,576.45L1205.47,576.24L1206.96,576.03L1208.45,575.82L1209.94,575.61L1211.43,575.40L1212.92,575.19L1214.41,574.98L1215.90,574.77L1217.39,574.55L1218.87,574.34L1220.36,574.13L1221.85,573.92L1223.34,573.70L1224.83,573.49L1226.32,573.28L1227.81,573.07L1229.30,572.85L1230.79,572.64L1232.28,572.43L1233.77,572.21L1235.26,572.00L1236.75,571.79L1238.24,571.58L1239.73,571.37L1241.22,571.16L1242.71,570.95L1244.20,570.74L1245.69,570.53L1247.18,570.32L1248.66,570.11L1250.15,569.90L1251.64,569.70L1253.13,569.49L1254.62,569.29L1256.11,569.09L1257.60,568.88L1259.09,568.68L1260.58,568.48L1262.07,568.28L1263.56,568.08L1265.05,567.89L1266.54,567.69L1268.03,567.50L1269.51,567.30L1271.00,567.11L1272.49,566.91L1273.98,566.72L1275.47,566.53L1276.96,566.33L1278.45,566.14L1279.94,565.95L1281.43,565.76L1282.91,565.56L1284.40,565.37L1285.89,565.17L1287.38,564.98L1288.86,564.78L1290.35,564.58L1291.84,564.39L1293.33,564.19L1294.81,563.98L1296.30,563.78L1297.79,563.58L1299.27,563.37L1300.76,563.16L1302.24,562.95L1303.73,562.74L1305.21,562.53L1306.70,562.31L1308.18,562.09L1309.67,561.87L1311.15,561.65L1312.64,561.42L1314.12,561.19L1315.60,560.96L1317.08,560.73L1318.57,560.49L1320.05,560.25L1321.53,560.00L1323.01,559.75L1324.49,559.50L1325.97,559.24L1327.45,558.98L1328.93,558.71L1330.41,558.44L1331.89,558.17L1333.36,557.89L1334.84,557.61L1336.32,557.32L1337.79,557.03L1339.27,556.73L1340.75,556.43L1342.22,556.12L1343.69,555.81L1345.17,555.49L1346.64,555.17L1348.11,554.84L1349.59,554.50L1351.06,554.16L1352.53,553.82L1354.00,553.46L1355.47,553.10L1356.94,552.74L1358.40,552.36L1359.87,551.99L1361.34,551.60L1362.81,551.21L1364.27,550.81L1365.74,550.40L1367.20,549.99L1368.66,549.56L1370.13,549.14L1371.59,548.70L1373.05,548.26L1374.51,547.80L1375.96,547.34L1377.42,546.87L1378.86,546.38L1380.31,545.88L1381.74,545.37L1383.17,544.85L1384.59,544.31L1386.00,543.76L1387.40,543.19L1388.80,542.60L1390.17,542.00L1391.54,541.37L1392.89,540.73L1394.23,540.07L1395.56,539.38L1396.86,538.67L1398.16,537.95L1399.43,537.19L1400.68,536.41L1401.92,535.61L1403.13,534.78L1404.32,533.93L1405.50,533.04L1406.64,532.14L1407.77,531.20L1408.87,530.24L1409.95,529.26L1411.01,528.25L1412.04,527.21L1413.04,526.15L1414.02,525.07L1414.97,523.96L1415.90,522.82L1416.80,521.66L1417.68,520.48L1418.53,519.28L1419.35,518.06L1420.15,516.82L1420.93,515.56L1421.68,514.28L1422.41,512.99L1423.12,511.68L1423.81,510.35L1424.47,509.01L1425.12,507.65L1425.74,506.29L1426.34,504.91L1426.93,503.52L1427.49,502.12L1428.04,500.71L1428.57,499.30L1429.08,497.87L1429.57,496.44L1430.04,495.01L1430.50,493.57L1430.95,492.12L1431.38,490.67L1431.79,489.22L1432.19,487.76L1432.58,486.30L1432.96,484.83L1433.32,483.36L1433.68,481.89L1434.02,480.41L1434.36,478.93L1434.68,477.45L1435.00,475.97L1435.31,474.48L1435.62,472.99L1435.92,471.51L1436.21,470.02L1436.50,468.53L1436.78,467.03L1437.06,465.54L1437.34,464.05L1437.62,462.56L1437.90,461.07L1438.17,459.58L1438.45,458.09L1438.72,456.60L1439.00,455.11L1439.28,453.63L1439.56,452.14L1439.84,450.66L1440.13,449.18L1440.41,447.70L1440.70,446.22L1440.99,444.74L1441.27,443.26L1441.56,441.78L1441.85,440.31L1442.13,438.83L1442.42,437.36L1442.71,435.88L1442.99,434.41L1443.27,432.94L1443.56,431.46L1443.84,429.99L1444.12,428.52L1444.39,427.05L1444.67,425.57L1444.94,424.10L1445.21,422.63L1445.48,421.16L1445.74,419.69L1446.01,418.21L1446.26,416.74L1446.52,415.27L1446.77,413.79L1447.02,412.32L1447.26,410.84L1447.50,409.36L1447.73,407.89L1447.96,406.41L1448.18,404.93L1448.40,403.45L1448.62,401.97L1448.83,400.49L1449.04,399.01L1449.24,397.52L1449.44,396.04L1449.64,394.55L1449.83,393.07L1450.02,391.58L1450.20,390.10L1450.38,388.61L1450.56,387.12L1450.73,385.64L1450.90,384.15L1451.07,382.66L1451.24,381.17L1451.40,379.68L1451.55,378.19L1451.71,376.70L1451.86,375.20L1452.01,373.71L1452.16,372.22L1452.30,370.72L1452.44,369.23L1452.58,367.74L1452.71,366.24L1452.84,364.75L1452.97,363.25L1453.10,361.75L1453.23,360.26L1453.35,358.76L1453.47,357.26L1453.59,355.76L1453.71,354.27L1453.82,352.77L1453.93,351.27L1454.05,349.77L1454.15,348.27L1454.26,346.77L1454.37,345.27L1454.47,343.77L1454.58,342.27L1454.68,340.77L1454.78,339.27L1454.88,337.77L1454.97,336.26L1455.07,334.76L1455.16,333.26L1455.26,331.76L1455.35,330.26L1455.44,328.75L1455.53,327.25L1455.63,325.75L1455.71,324.25L1455.80,322.74L1455.89,321.24L1455.98,319.74L1456.07,318.24L1456.16,316.73L1456.24,315.23L1456.33,313.73L1456.42,312.22L1456.50,310.72L1456.59,309.22L1456.68,307.71L1456.76,306.21L1456.85,304.71L1456.94,303.21L1457.02,301.70L1457.11,300.20L1457.20,298.70L1457.29,297.20L1457.38,295.69L1457.47,294.19L1457.56,292.69L1457.65,291.19L1457.74,289.69L1457.83,288.18L1457.93,286.68L1458.02,285.18L1458.11,283.68L1458.21,282.18L1458.30,280.68L1458.39,279.18L1458.49,277.68L1458.58,276.18L1458.68,274.67L1458.78,273.17L1458.87,271.67L1458.97,270.17L1459.06,268.67L1459.16,267.17L1459.26,265.67L1459.36,264.17L1459.45,262.67L1459.55,261.17L1459.65,259.67L1459.75,258.17L1459.85,256.67L1459.95,255.17L1460.05,253.67L1460.14,252.17L1460.24,250.67L1460.34,249.18L1460.44,247.68L1460.54,246.18L1460.64,244.68L1460.74,243.18L1460.84,241.68L1460.94,240.18L1461.04,238.68L1461.14,237.18L1461.24,235.68L1461.34,234.18L1461.44,232.68L1461.54,231.18L1461.64,229.68L1461.74,228.19L1461.84,226.69L1461.94,225.19L1462.04,223.69L1462.13,222.19L1462.23,220.69L1462.33,219.19L1462.43,217.69L1462.53,216.19L1462.63,214.69L1462.72,213.19L1462.82,211.70L1462.92,210.20L1463.02,208.70L1463.11,207.20L1463.21,205.70L1463.31,204.20L1463.40,202.70L1463.50,201.20L1463.59,199.70L1463.69,198.20L1463.78,196.70L1463.88,195.20L1463.97,193.70L1464.06,192.20L1464.16,190.70L1464.25,189.20L1464.34,187.70L1464.43,186.20L1464.52,184.70L1464.61,183.20L1464.70,181.70L1464.79,180.20L1464.88,178.70L1464.97,177.20L1465.06,175.70L1465.15,174.20L1465.23,172.70L1465.32,171.20L1465.41,169.70L1465.49,168.20L1465.58,166.70L1465.66,165.20L1465.75,163.70L1465.83,162.20L1465.92,160.70L1466.00,159.19L1466.08,157.69L1466.17,156.19L1466.25,154.69L1466.33,153.19L1466.41,151.69L1466.50,150.19L1466.58,148.69L1466.66,147.19L1466.74,145.68L1466.82,144.18L1466.90,142.68L1466.98,141.18L1467.06,139.68L1467.14,138.18L1467.22,136.68L1467.29,135.17L1467.37,133.67L1467.45,132.17L1467.53,130.67L1467.60,129.17L1467.68,127.66L1467.76,126.16L1467.83,124.66L1467.91,123.16L1467.99,121.66L1468.06,120.16L1468.14,118.65L1468.21,117.15L1468.29,115.65L1468.36,114.15L1468.44,112.65L1468.51,111.14L1468.59,109.64L1468.66,108.14L1468.74,106.64L1468.81,105.14L1468.88,103.63L1468.96,102.13L1469.03,100.63L1469.10,99.13L1469.18,97.62L1469.25,96.12L1469.32,94.62L1469.39,93.12L1469.47,91.62L1469.54,90.11L1469.61,88.61L1469.68,87.11L1469.76,85.61L1469.83,84.10L1469.90,82.60L1469.97,81.10L1470.04,79.60L1470.12,78.10L1470.19,76.59L1470.26,75.09L1470.33,73.59L1470.40,72.09L1470.47,70.58L1470.54,69.08L1470.62,67.58L1470.69,66.08L1470.76,64.58L1470.83,63.07L1470.90,61.57L1470.97,60.07L1471.04,58.57L1471.11,57.07L1471.19,55.56L1471.26,54.06L1471.33,52.56L1471.40,51.06L1471.47,49.55L1471.54,48.05L1471.61,46.55L1471.69,45.05L1471.76,43.55L1471.83,42.04L1471.90,40.54L1471.97,39.04L1472.04,37.54L1472.12,36.04L1472.19,34.54L1472.26,33.03L1472.33,31.53L1472.40,30.03L1472.48,28.53L1472.55,27.03L1472.62,25.53L1472.70,24.02L1472.77,22.52L1472.84,21.02L1472.92,19.52L1472.99,18.02L1473.06,16.52L1473.14,15.02L1473.21,13.51L1473.28,12.01L1473.36,10.51L1473.43,9.01L1473.51,7.51L1473.58,6.01L1473.66,4.51L1473.73,3.01L1473.81,1.51L1473.89,0.01L1473.96,-1.50L1474.04,-3.00L1474.11,-4.50L1474.19,-6.00L1474.27,-7.50L1474.35,-9.00L1474.42,-10.50L1474.50,-12.00" fill="none" stroke="#F5C710" stroke-width="3" stroke-linecap="round" stroke-linejoin="round" stroke-dasharray="18 12" clip-path="url(#cb)"/>
<path d="M1070.80,257.30L1070.97,258.80L1071.13,260.31L1071.28,261.81L1071.44,263.32L1071.59,264.82L1071.74,266.32L1071.89,267.83L1072.04,269.33L1072.18,270.83L1072.32,272.33L1072.46,273.83L1072.60,275.33L1072.74,276.83L1072.88,278.33L1073.01,279.83L1073.14,281.33L1073.28,282.83L1073.41,284.33L1073.54,285.83L1073.67,287.32L1073.79,288.82L1073.92,290.32L1074.05,291.81L1074.17,293.31L1074.30,294.81L1074.43,296.30L1074.55,297.80L1074.67,299.29L1074.80,300.79L1074.92,302.28L1075.05,303.77L1075.17,305.27L1075.30,306.76L1075.42,308.26L1075.55,309.75L1075.67,311.24L1075.80,312.74L1075.93,314.23L1076.06,315.72L1076.19,317.21L1076.31,318.70L1076.45,320.20L1076.58,321.69L1076.71,323.18L1076.85,324.67L1076.98,326.16L1077.12,327.65L1077.26,329.14L1077.40,330.64L1077.54,332.13L1077.68,333.62L1077.83,335.11L1077.98,336.60L1078.13,338.09L1078.28,339.58L1078.44,341.07L1078.59,342.56L1078.75,344.05L1078.91,345.54L1079.08,347.03L1079.25,348.52L1079.42,350.01L1079.59,351.50L1079.77,352.99L1079.95,354.48L1080.13,355.97L1080.31,357.46L1080.50,358.95L1080.70,360.44L1080.89,361.93L1081.09,363.42L1081.30,364.91L1081.50,366.40L1081.71,367.89L1081.93,369.39L1082.15,370.88L1082.37,372.37L1082.60,373.86L1082.83,375.35L1083.07,376.84L1083.31,378.33L1083.56,379.82L1083.81,381.32L1084.06,382.81L1084.32,384.30L1084.59,385.79L1084.86,387.28L1085.14,388.77L1085.42,390.26L1085.71,391.75L1086.01,393.24L1086.31,394.73L1086.63,396.21L1086.95,397.69L1087.28,399.17L1087.62,400.65L1087.98,402.12L1088.34,403.60L1088.71,405.06L1089.09,406.53L1089.48,407.99L1089.89,409.45L1090.31,410.90L1090.74,412.35L1091.18,413.79L1091.64,415.23L1092.11,416.66L1092.59,418.09L1093.09,419.51L1093.60,420.93L1094.13,422.34L1094.68,423.75L1095.24,425.14L1095.81,426.53L1096.41,427.92L1097.02,429.29L1097.65,430.66L1098.29,432.02L1098.96,433.38L1099.64,434.72L1100.35,436.06L1101.07,437.38L1101.81,438.69L1102.56,440.00L1103.34,441.29L1104.14,442.57L1104.95,443.83L1105.78,445.08L1106.63,446.32L1107.51,447.55L1108.40,448.75L1109.31,449.95L1110.24,451.12L1111.18,452.28L1112.15,453.42L1113.14,454.55L1114.14,455.65L1115.17,456.73L1116.22,457.80L1117.28,458.84L1118.37,459.87L1119.47,460.87L1120.60,461.85L1121.74,462.80L1122.91,463.73L1124.10,464.64L1125.30,465.53L1126.52,466.39L1127.76,467.22L1129.02,468.03L1130.29,468.82L1131.58,469.59L1132.88,470.33L1134.20,471.04L1135.53,471.74L1136.87,472.41L1138.22,473.05L1139.58,473.67L1140.95,474.27L1142.33,474.84L1143.72,475.39L1145.12,475.92L1146.52,476.42L1147.93,476.90L1149.34,477.35L1150.76,477.78L1152.18,478.19L1153.61,478.58L1155.04,478.94L1156.47,479.28L1157.91,479.60L1159.36,479.90L1160.81,480.17L1162.26,480.43L1163.71,480.66L1165.17,480.87L1166.64,481.07L1168.10,481.24L1169.57,481.39L1171.04,481.53L1172.52,481.64L1174.00,481.74L1175.48,481.81L1176.96,481.87L1178.44,481.91L1179.93,481.94L1181.42,481.94L1182.91,481.93L1184.40,481.90L1185.90,481.85L1187.39,481.79L1188.89,481.71L1190.39,481.62L1191.89,481.51L1193.39,481.38L1194.89,481.24L1196.39,481.09L1197.89,480.92L1199.39,480.74L1200.89,480.54L1202.39,480.33L1203.89,480.10L1205.39,479.86L1206.89,479.61L1208.39,479.35L1209.89,479.07L1211.38,478.78L1212.88,478.48L1214.38,478.17L1215.87,477.85L1217.36,477.52L1218.85,477.17L1220.34,476.82L1221.83,476.45L1223.31,476.08L1224.79,475.69L1226.27,475.30L1227.75,474.90L1229.22,474.48L1230.69,474.06L1232.16,473.64L1233.63,473.20L1235.09,472.75L1236.55,472.30L1238.00,471.84L1239.45,471.38L1240.90,470.90L1242.34,470.42L1243.78,469.94L1245.22,469.44L1246.65,468.94L1248.08,468.43L1249.51,467.91L1250.93,467.39L1252.34,466.86L1253.76,466.32L1255.17,465.77L1256.58,465.22L1257.98,464.66L1259.38,464.09L1260.77,463.52L1262.16,462.94L1263.55,462.35L1264.93,461.76L1266.31,461.15L1267.69,460.54L1269.06,459.93L1270.42,459.30L1271.79,458.67L1273.14,458.03L1274.50,457.39L1275.85,456.74L1277.20,456.08L1278.54,455.41L1279.88,454.74L1281.21,454.06L1282.54,453.37L1283.86,452.67L1285.19,451.97L1286.50,451.26L1287.81,450.55L1289.12,449.82L1290.43,449.09L1291.72,448.36L1293.02,447.61L1294.31,446.86L1295.60,446.11L1296.88,445.34L1298.15,444.57L1299.43,443.79L1300.69,443.01L1301.96,442.21L1303.22,441.42L1304.47,440.61L1305.72,439.80L1306.97,438.98L1308.21,438.15L1309.44,437.32L1310.67,436.48L1311.90,435.63L1313.12,434.77L1314.34,433.91L1315.55,433.04L1316.76,432.17L1317.96,431.29L1319.16,430.40L1320.35,429.50L1321.54,428.60L1322.72,427.69L1323.90,426.78L1325.07,425.86L1326.24,424.93L1327.40,423.99L1328.56,423.05L1329.71,422.10L1330.86,421.14L1332.00,420.18L1333.14,419.21L1334.28,418.24L1335.41,417.26L1336.53,416.27L1337.65,415.28L1338.77,414.28L1339.88,413.27L1340.99,412.26L1342.09,411.25L1343.19,410.23L1344.28,409.20L1345.37,408.17L1346.46,407.13L1347.54,406.09L1348.62,405.04L1349.69,403.99L1350.76,402.94L1351.83,401.88L1352.89,400.81L1353.95,399.74L1355.01,398.67L1356.06,397.59L1357.11,396.50L1358.15,395.42L1359.19,394.33L1360.23,393.23L1361.27,392.13L1362.30,391.03L1363.33,389.92L1364.35,388.81L1365.38,387.70L1366.39,386.59L1367.41,385.47L1368.42,384.34L1369.43,383.22L1370.44,382.09L1371.45,380.96L1372.45,379.82L1373.45,378.69L1374.45,377.55L1375.44,376.40L1376.43,375.26L1377.42,374.11L1378.41,372.97L1379.39,371.81L1380.38,370.66L1381.36,369.51L1382.33,368.35L1383.31,367.19L1384.29,366.03L1385.26,364.87L1386.23,363.71L1387.20,362.54L1388.16,361.38L1389.13,360.21L1390.09,359.04L1391.05,357.88L1392.01,356.71L1392.97,355.54L1393.93,354.37L1394.88,353.20L1395.83,352.02L1396.79,350.85L1397.74,349.68L1398.69,348.51L1399.64,347.33L1400.59,346.16L1401.53,344.99L1402.48,343.82L1403.42,342.65L1404.37,341.48L1405.31,340.30L1406.25,339.13L1407.19,337.96L1408.13,336.79L1409.07,335.63L1410.01,334.46L1410.95,333.29L1411.89,332.12L1412.83,330.96L1413.77,329.79L1414.70,328.62L1415.64,327.46L1416.58,326.29L1417.52,325.13L1418.45,323.96L1419.39,322.80L1420.32,321.63L1421.26,320.47L1422.20,319.30L1423.13,318.14L1424.07,316.97L1425.01,315.81L1425.95,314.65L1426.88,313.48L1427.82,312.32L1428.76,311.16L1429.70,309.99L1430.64,308.83L1431.58,307.67L1432.52,306.50L1433.46,305.34L1434.40,304.18L1435.34,303.01L1436.29,301.85L1437.23,300.69L1438.18,299.52L1439.12,298.36L1440.07,297.19L1441.02,296.03L1441.97,294.87L1442.92,293.70L1443.87,292.54L1444.82,291.37L1445.78,290.21L1446.73,289.05L1447.69,287.89L1448.66,286.73L1449.62,285.57L1450.59,284.42L1451.57,283.27L1452.55,282.12L1453.53,280.98L1454.52,279.84L1455.51,278.70L1456.51,277.57L1457.52,276.45L1458.53,275.33L1459.54,274.22L1460.57,273.11L1461.60,272.02L1462.64,270.93L1463.69,269.84L1464.74,268.77L1465.80,267.70L1466.88,266.65L1467.96,265.60L1469.05,264.56L1470.15,263.53L1471.26,262.51L1472.38,261.51L1473.51,260.51L1474.66,259.53L1475.81,258.56L1476.98,257.60L1478.15,256.65L1479.34,255.72L1480.55,254.80L1481.76,253.89L1482.99,253.00L1484.23,252.12L1485.47,251.26L1486.73,250.41L1488.00,249.58L1489.28,248.76L1490.58,247.96L1491.88,247.17L1493.19,246.40L1494.50,245.65L1495.83,244.91L1497.17,244.19L1498.51,243.49L1499.87,242.81L1501.23,242.14L1502.60,241.49L1503.97,240.86L1505.35,240.25L1506.74,239.66L1508.14,239.08L1509.54,238.53L1510.95,237.99L1512.36,237.48L1513.78,236.98L1515.20,236.51L1516.63,236.06L1518.07,235.62L1519.50,235.21L1520.94,234.82L1522.39,234.46L1523.84,234.11L1525.29,233.79L1526.74,233.49L1528.20,233.21L1529.66,232.95L1531.12,232.72L1532.58,232.52L1534.05,232.33L1535.51,232.17L1536.98,232.04L1538.44,231.93L1539.91,231.84L1541.38,231.78L1542.85,231.75L1544.31,231.74L1545.78,231.76L1547.24,231.80L1548.71,231.86L1550.17,231.95L1551.64,232.06L1553.10,232.19L1554.57,232.35L1556.03,232.52L1557.49,232.72L1558.95,232.93L1560.41,233.17L1561.87,233.42L1563.33,233.70L1564.79,233.99L1566.24,234.30L1567.70,234.63L1569.15,234.97L1570.60,235.33L1572.06,235.70L1573.51,236.09L1574.96,236.50L1576.41,236.91L1577.85,237.35L1579.30,237.79L1580.74,238.25L1582.19,238.72L1583.63,239.20L1585.07,239.69L1586.51,240.19L1587.94,240.70L1589.38,241.22L1590.81,241.75L1592.24,242.29L1593.67,242.83L1595.10,243.38L1596.53,243.94L1597.95,244.51L1599.38,245.08L1600.80,245.66L1602.21,246.24L1603.63,246.82L1605.05,247.41L1606.46,248.00L1607.87,248.60L1609.28,249.20L1610.68,249.79L1612.09,250.39L1613.49,250.99L1614.89,251.60L1616.28,252.20L1617.68,252.81L1619.07,253.41L1620.46,254.02L1621.85,254.63L1623.24,255.24L1624.63,255.85L1626.01,256.46L1627.39,257.08L1628.77,257.69L1630.15,258.31L1631.53,258.92L1632.91,259.54L1634.28,260.16L1635.66,260.77L1637.03,261.39L1638.40,262.01L1639.77,262.63L1641.14,263.25L1642.50,263.88L1643.87,264.50L1645.24,265.12L1646.60,265.74L1647.97,266.37L1649.33,266.99L1650.69,267.61L1652.05,268.24L1653.41,268.86L1654.77,269.49L1656.13,270.11L1657.49,270.74L1658.85,271.36L1660.21,271.98L1661.56,272.61L1662.92,273.23L1664.28,273.86L1665.64,274.48L1666.99,275.11L1668.35,275.73L1669.70,276.35L1671.06,276.98L1672.42,277.60L1673.77,278.22L1675.13,278.84L1676.49,279.46L1677.84,280.08L1679.20,280.70L1680.56,281.32L1681.92,281.94L1683.27,282.56L1684.63,283.17L1685.99,283.79L1687.35,284.41L1688.71,285.02L1690.07,285.63L1691.44,286.25L1692.80,286.86L1694.16,287.47L1695.53,288.08L1696.89,288.68L1698.26,289.29L1699.63,289.90L1700.99,290.50L1702.36,291.10L1703.73,291.70L1705.11,292.30L1706.48,292.90L1707.85,293.50L1709.23,294.10L1710.61,294.69L1711.99,295.28L1713.37,295.87L1714.75,296.46L1716.13,297.05L1717.52,297.63L1718.90,298.22L1720.29,298.80L1721.68,299.38L1723.08,299.95L1724.47,300.53L1725.87,301.10L1727.27,301.67L1728.67,302.24L1730.07,302.81L1731.48,303.37L1732.88,303.94L1734.29,304.50L1735.70,305.05L1737.12,305.61L1738.54,306.16L1739.96,306.71L1741.38,307.26L1742.80,307.80" fill="none" stroke="#9E9E9E" stroke-width="3" stroke-linecap="round" stroke-linejoin="round" clip-path="url(#cb)"/>
<path d="M1071.00,212.00L1071.03,213.50L1071.05,214.99L1071.08,216.49L1071.10,217.99L1071.13,219.49L1071.16,220.99L1071.19,222.49L1071.21,223.98L1071.24,225.48L1071.27,226.98L1071.30,228.48L1071.33,229.99L1071.36,231.49L1071.39,232.99L1071.42,234.49L1071.45,235.99L1071.48,237.49L1071.51,239.00L1071.54,240.50L1071.57,242.00L1071.61,243.50L1071.64,245.01L1071.67,246.51L1071.71,248.02L1071.74,249.52L1071.78,251.02L1071.81,252.53L1071.85,254.03L1071.89,255.54L1071.92,257.04L1071.96,258.55L1072.00,260.05L1072.04,261.56L1072.08,263.06L1072.12,264.57L1072.16,266.07L1072.21,267.58L1072.25,269.08L1072.29,270.59L1072.34,272.09L1072.38,273.60L1072.43,275.10L1072.48,276.61L1072.53,278.11L1072.57,279.62L1072.62,281.12L1072.68,282.63L1072.73,284.13L1072.78,285.64L1072.83,287.14L1072.89,288.65L1072.94,290.15L1073.00,291.66L1073.05,293.16L1073.11,294.67L1073.17,296.17L1073.23,297.68L1073.29,299.18L1073.36,300.68L1073.42,302.19L1073.48,303.69L1073.55,305.19L1073.62,306.70L1073.68,308.20L1073.75,309.70L1073.82,311.20L1073.89,312.70L1073.97,314.21L1074.04,315.71L1074.12,317.21L1074.19,318.71L1074.27,320.21L1074.35,321.71L1074.43,323.21L1074.51,324.71L1074.59,326.21L1074.68,327.70L1074.76,329.20L1074.85,330.70L1074.94,332.20L1075.03,333.70L1075.12,335.19L1075.21,336.69L1075.31,338.18L1075.41,339.68L1075.50,341.18L1075.61,342.67L1075.71,344.17L1075.81,345.66L1075.92,347.16L1076.03,348.65L1076.14,350.15L1076.25,351.64L1076.36,353.13L1076.48,354.63L1076.60,356.12L1076.72,357.61L1076.84,359.11L1076.97,360.60L1077.10,362.09L1077.23,363.58L1077.36,365.07L1077.50,366.57L1077.64,368.06L1077.78,369.55L1077.92,371.04L1078.07,372.53L1078.21,374.02L1078.36,375.51L1078.52,377.00L1078.68,378.49L1078.84,379.99L1079.00,381.48L1079.16,382.97L1079.33,384.46L1079.50,385.95L1079.68,387.44L1079.86,388.93L1080.04,390.41L1080.22,391.90L1080.41,393.39L1080.60,394.88L1080.79,396.37L1080.99,397.86L1081.19,399.35L1081.40,400.84L1081.60,402.33L1081.81,403.82L1082.03,405.31L1082.25,406.80L1082.47,408.29L1082.69,409.77L1082.92,411.26L1083.16,412.75L1083.39,414.24L1083.63,415.73L1083.88,417.22L1084.13,418.71L1084.38,420.20L1084.64,421.69L1084.90,423.18L1085.16,424.67L1085.43,426.16L1085.70,427.64L1085.98,429.13L1086.26,430.62L1086.55,432.11L1086.84,433.60L1087.14,435.09L1087.44,436.58L1087.75,438.06L1088.07,439.54L1088.39,441.03L1088.73,442.50L1089.07,443.98L1089.41,445.46L1089.77,446.93L1090.14,448.39L1090.51,449.86L1090.90,451.32L1091.30,452.77L1091.71,454.23L1092.13,455.67L1092.56,457.12L1093.00,458.55L1093.46,459.98L1093.93,461.41L1094.41,462.83L1094.91,464.24L1095.42,465.65L1095.94,467.05L1096.48,468.44L1097.04,469.83L1097.61,471.20L1098.20,472.57L1098.81,473.94L1099.43,475.29L1100.07,476.63L1100.73,477.97L1101.40,479.29L1102.10,480.61L1102.81,481.92L1103.55,483.21L1104.30,484.50L1105.07,485.77L1105.87,487.04L1106.68,488.29L1107.51,489.54L1108.35,490.77L1109.22,491.99L1110.10,493.19L1111.00,494.39L1111.92,495.57L1112.85,496.75L1113.80,497.90L1114.77,499.05L1115.75,500.18L1116.75,501.30L1117.76,502.41L1118.79,503.50L1119.84,504.58L1120.90,505.65L1121.97,506.70L1123.06,507.74L1124.16,508.76L1125.28,509.77L1126.41,510.76L1127.55,511.74L1128.71,512.70L1129.87,513.65L1131.05,514.58L1132.25,515.49L1133.45,516.39L1134.67,517.27L1135.89,518.14L1137.13,518.99L1138.38,519.82L1139.64,520.64L1140.91,521.43L1142.19,522.21L1143.48,522.98L1144.78,523.72L1146.09,524.45L1147.41,525.16L1148.73,525.85L1150.07,526.52L1151.41,527.17L1152.76,527.80L1154.12,528.42L1155.48,529.01L1156.86,529.59L1158.24,530.16L1159.63,530.70L1161.02,531.23L1162.42,531.75L1163.83,532.25L1165.24,532.73L1166.66,533.20L1168.09,533.66L1169.52,534.10L1170.95,534.52L1172.39,534.94L1173.84,535.34L1175.29,535.73L1176.75,536.10L1178.21,536.47L1179.67,536.82L1181.14,537.17L1182.61,537.50L1184.08,537.82L1185.56,538.13L1187.04,538.43L1188.52,538.73L1190.01,539.01L1191.50,539.29L1192.99,539.56L1194.48,539.82L1195.98,540.07L1197.47,540.32L1198.97,540.56L1200.47,540.80L1201.97,541.03L1203.47,541.25L1204.97,541.47L1206.47,541.69L1207.98,541.90L1209.48,542.11L1210.98,542.31L1212.48,542.51L1213.98,542.71L1215.48,542.90L1216.98,543.10L1218.48,543.29L1219.98,543.47L1221.48,543.66L1222.98,543.84L1224.47,544.02L1225.97,544.20L1227.47,544.37L1228.96,544.54L1230.46,544.71L1231.95,544.87L1233.45,545.04L1234.94,545.20L1236.44,545.36L1237.93,545.51L1239.43,545.66L1240.92,545.81L1242.42,545.96L1243.91,546.10L1245.40,546.25L1246.90,546.38L1248.39,546.52L1249.88,546.66L1251.38,546.79L1252.87,546.92L1254.36,547.04L1255.85,547.16L1257.35,547.29L1258.84,547.40L1260.33,547.52L1261.83,547.63L1263.32,547.74L1264.81,547.85L1266.31,547.96L1267.80,548.06L1269.30,548.16L1270.79,548.26L1272.28,548.35L1273.78,548.45L1275.27,548.54L1276.77,548.62L1278.26,548.71L1279.76,548.79L1281.25,548.87L1282.75,548.95L1284.25,549.02L1285.74,549.10L1287.24,549.17L1288.74,549.23L1290.23,549.30L1291.73,549.36L1293.23,549.42L1294.73,549.48L1296.23,549.53L1297.72,549.58L1299.22,549.63L1300.72,549.68L1302.22,549.72L1303.72,549.76L1305.22,549.80L1306.72,549.83L1308.22,549.87L1309.71,549.90L1311.21,549.93L1312.71,549.95L1314.21,549.97L1315.71,549.99L1317.21,550.01L1318.71,550.02L1320.21,550.04L1321.72,550.04L1323.22,550.05L1324.72,550.05L1326.22,550.05L1327.72,550.05L1329.22,550.05L1330.72,550.04L1332.22,550.03L1333.72,550.02L1335.22,550.00L1336.72,549.98L1338.23,549.96L1339.73,549.94L1341.23,549.91L1342.73,549.88L1344.23,549.85L1345.73,549.81L1347.23,549.77L1348.74,549.73L1350.24,549.69L1351.74,549.64L1353.24,549.59L1354.74,549.54L1356.24,549.48L1357.75,549.43L1359.25,549.36L1360.75,549.30L1362.25,549.23L1363.75,549.16L1365.25,549.09L1366.76,549.02L1368.26,548.94L1369.76,548.86L1371.26,548.77L1372.76,548.69L1374.26,548.60L1375.76,548.50L1377.26,548.41L1378.76,548.31L1380.27,548.21L1381.77,548.10L1383.27,547.99L1384.77,547.88L1386.27,547.77L1387.77,547.65L1389.27,547.53L1390.77,547.41L1392.27,547.29L1393.77,547.16L1395.27,547.03L1396.77,546.89L1398.27,546.75L1399.77,546.61L1401.27,546.47L1402.77,546.32L1404.26,546.17L1405.76,546.02L1407.26,545.87L1408.76,545.71L1410.26,545.54L1411.76,545.38L1413.25,545.21L1414.75,545.04L1416.25,544.87L1417.75,544.69L1419.24,544.51L1420.74,544.33L1422.24,544.14L1423.73,543.95L1425.23,543.76L1426.72,543.56L1428.22,543.36L1429.71,543.16L1431.21,542.95L1432.70,542.74L1434.19,542.52L1435.69,542.31L1437.18,542.09L1438.67,541.86L1440.16,541.63L1441.65,541.40L1443.14,541.16L1444.63,540.92L1446.11,540.68L1447.60,540.43L1449.09,540.17L1450.57,539.91L1452.05,539.65L1453.54,539.39L1455.02,539.11L1456.50,538.84L1457.98,538.56L1459.46,538.27L1460.93,537.98L1462.41,537.69L1463.88,537.39L1465.36,537.09L1466.83,536.78L1468.30,536.46L1469.77,536.14L1471.23,535.82L1472.70,535.49L1474.16,535.16L1475.63,534.82L1477.09,534.47L1478.55,534.12L1480.00,533.76L1481.46,533.40L1482.91,533.03L1484.36,532.66L1485.81,532.28L1487.26,531.90L1488.71,531.51L1490.15,531.11L1491.60,530.71L1493.04,530.30L1494.47,529.88L1495.91,529.46L1497.34,529.04L1498.78,528.60L1500.20,528.16L1501.63,527.72L1503.06,527.26L1504.48,526.80L1505.90,526.34L1507.32,525.87L1508.73,525.39L1510.14,524.90L1511.55,524.41L1512.96,523.91L1514.37,523.40L1515.77,522.89L1517.17,522.37L1518.56,521.84L1519.96,521.31L1521.35,520.77L1522.74,520.22L1524.12,519.66L1525.50,519.10L1526.88,518.52L1528.26,517.94L1529.63,517.36L1531.00,516.76L1532.37,516.16L1533.73,515.55L1535.09,514.93L1536.45,514.31L1537.81,513.67L1539.16,513.03L1540.50,512.38L1541.85,511.72L1543.19,511.06L1544.53,510.38L1545.86,509.70L1547.19,509.01L1548.52,508.31L1549.84,507.60L1551.16,506.88L1552.47,506.16L1553.79,505.43L1555.10,504.69L1556.40,503.94L1557.70,503.18L1559.00,502.42L1560.30,501.65L1561.59,500.87L1562.88,500.08L1564.16,499.29L1565.44,498.50L1566.72,497.69L1568.00,496.88L1569.27,496.07L1570.54,495.25L1571.81,494.42L1573.07,493.59L1574.34,492.76L1575.59,491.92L1576.85,491.07L1578.10,490.22L1579.36,489.37L1580.60,488.51L1581.85,487.65L1583.09,486.78L1584.33,485.92L1585.57,485.05L1586.81,484.17L1588.04,483.29L1589.27,482.42L1590.50,481.53L1591.73,480.65L1592.95,479.76L1594.18,478.88L1595.40,477.99L1596.62,477.10L1597.83,476.21L1599.05,475.32L1600.26,474.42L1601.47,473.53L1602.68,472.64L1603.89,471.74L1605.10,470.85L1606.30,469.95L1607.51,469.05L1608.71,468.16L1609.91,467.26L1611.11,466.36L1612.31,465.47L1613.51,464.57L1614.70,463.67L1615.90,462.77L1617.09,461.87L1618.29,460.97L1619.48,460.07L1620.68,459.17L1621.87,458.27L1623.06,457.37L1624.25,456.47L1625.45,455.57L1626.64,454.67L1627.83,453.77L1629.02,452.87L1630.21,451.97L1631.40,451.07L1632.59,450.17L1633.79,449.26L1634.98,448.36L1636.17,447.46L1637.36,446.56L1638.56,445.66L1639.75,444.76L1640.95,443.86L1642.14,442.95L1643.34,442.05L1644.54,441.15L1645.74,440.25L1646.94,439.35L1648.14,438.45L1649.34,437.55L1650.55,436.65L1651.75,435.75L1652.96,434.85L1654.17,433.95L1655.38,433.06L1656.59,432.16L1657.81,431.28L1659.03,430.39L1660.25,429.51L1661.48,428.64L1662.71,427.77L1663.95,426.91L1665.19,426.06L1666.43,425.21L1667.68,424.37L1668.93,423.54L1670.19,422.72L1671.45,421.90L1672.71,421.08L1673.97,420.26L1675.23,419.44L1676.48,418.62L1677.74,417.79L1678.99,416.96L1680.24,416.13L1681.48,415.29L1682.73,414.46L1683.97,413.62L1685.22,412.78L1686.46,411.94L1687.70,411.09L1688.94,410.25L1690.19,409.41L1691.43,408.57L1692.67,407.73L1693.91,406.90L1695.16,406.06L1696.40,405.23L1697.65,404.40L1698.90,403.57L1700.15,402.75L1701.40,401.93L1702.65,401.11L1703.91,400.30L1705.17,399.50L1706.44,398.71L1707.71,397.93L1708.99,397.16L1710.27,396.40L1711.56,395.65L1712.86,394.92L1714.17,394.20L1715.49,393.50L1716.82,392.82L1718.16,392.16L1719.51,391.51L1720.87,390.89L1722.24,390.28L1723.62,389.69L1725.01,389.12L1726.41,388.57L1727.81,388.03L1729.23,387.51L1730.65,387.01L1732.08,386.52L1733.51,386.04L1734.94,385.58L1736.38,385.12L1737.82,384.68L1739.27,384.25L1740.71,383.82L1742.16,383.41L1743.60,383.00" fill="none" stroke="#CD0BBC" stroke-width="3" stroke-linecap="round" stroke-linejoin="round" stroke-dasharray="3 9 15 9" pathLength="971.000" clip-path="url(#cb)"/>
<rect x="110.87" y="1.43" width="733.38" height="646.37" fill="none" stroke="#000" stroke-width="2.7" stroke-linejoin="round"/>
<line x1="138.03" y1="648.70" x2="138.03" y2="662.90" stroke="#000" stroke-width="1.8" stroke-linecap="round"/>
<text x="138.03" y="700.7" text-anchor="middle" font-size="25.3" font-family="Liberation Sans, Arial, sans-serif" stroke="#000" stroke-width="0.65">0.0</text>
<line x1="251.20" y1="648.70" x2="251.20" y2="662.90" stroke="#000" stroke-width="1.8" stroke-linecap="round"/>
<text x="251.20" y="700.7" text-anchor="middle" font-size="25.3" font-family="Liberation Sans, Arial, sans-serif" stroke="#000" stroke-width="0.65">0.5</text>
<line x1="364.38" y1="648.70" x2="364.38" y2="662.90" stroke="#000" stroke-width="1.8" stroke-linecap="round"/>
<text x="364.38" y="700.7" text-anchor="middle" font-size="25.3" font-family="Liberation Sans, Arial, sans-serif" stroke="#000" stroke-width="0.65">1.0</text>
<line x1="477.55" y1="648.70" x2="477.55" y2="662.90" stroke="#000" stroke-width="1.8" stroke-linecap="round"/>
<text x="477.55" y="700.7" text-anchor="middle" font-size="25.3" font-family="Liberation Sans, Arial, sans-serif" stroke="#000" stroke-width="0.65">1.5</text>
<line x1="590.73" y1="648.70" x2="590.73" y2="662.90" stroke="#000" stroke-width="1.8" stroke-linecap="round"/>
<text x="590.73" y="700.7" text-anchor="middle" font-size="25.3" font-family="Liberation Sans, Arial, sans-serif" stroke="#000" stroke-width="0.65">2.0</text>
<line x1="703.90" y1="648.70" x2="703.90" y2="662.90" stroke="#000" stroke-width="1.8" stroke-linecap="round"/>
<text x="703.90" y="700.7" text-anchor="middle" font-size="25.3" font-family="Liberation Sans, Arial, sans-serif" stroke="#000" stroke-width="0.65">2.5</text>
<line x1="817.08" y1="648.70" x2="817.08" y2="662.90" stroke="#000" stroke-width="1.8" stroke-linecap="round"/>
<text x="817.08" y="700.7" text-anchor="middle" font-size="25.3" font-family="Liberation Sans, Arial, sans-serif" stroke="#000" stroke-width="0.65">3.0</text>
<line x1="109.97" y1="624.05" x2="95.77" y2="624.05" stroke="#000" stroke-width="1.8" stroke-linecap="round"/>
<text transform="translate(76.50,624.05) rotate(-90)" text-anchor="middle" font-size="25.3" font-family="Liberation Sans, Arial, sans-serif" stroke="#000" stroke-width="0.65">0</text>
<line x1="109.97" y1="515.20" x2="95.77" y2="515.20" stroke="#000" stroke-width="1.8" stroke-linecap="round"/>
<text transform="translate(76.50,515.20) rotate(-90)" text-anchor="middle" font-size="25.3" font-family="Liberation Sans, Arial, sans-serif" stroke="#000" stroke-width="0.65">1</text>
<line x1="109.97" y1="406.35" x2="95.77" y2="406.35" stroke="#000" stroke-width="1.8" stroke-linecap="round"/>
<text transform="translate(76.50,406.35) rotate(-90)" text-anchor="middle" font-size="25.3" font-family="Liberation Sans, Arial, sans-serif" stroke="#000" stroke-width="0.65">2</text>
<line x1="109.97" y1="297.50" x2="95.77" y2="297.50" stroke="#000" stroke-width="1.8" stroke-linecap="round"/>
<text transform="translate(76.50,297.50) rotate(-90)" text-anchor="middle" font-size="25.3" font-family="Liberation Sans, Arial, sans-serif" stroke="#000" stroke-width="0.65">3</text>
<line x1="109.97" y1="188.65" x2="95.77" y2="188.65" stroke="#000" stroke-width="1.8" stroke-linecap="round"/>
<text transform="translate(76.50,188.65) rotate(-90)" text-anchor="middle" font-size="25.3" font-family="Liberation Sans, Arial, sans-serif" stroke="#000" stroke-width="0.65">4</text>
<line x1="109.97" y1="79.80" x2="95.77" y2="79.80" stroke="#000" stroke-width="1.8" stroke-linecap="round"/>
<text transform="translate(76.50,79.80) rotate(-90)" text-anchor="middle" font-size="25.3" font-family="Liberation Sans, Arial, sans-serif" stroke="#000" stroke-width="0.65">5</text>
<text x="477.56" y="759.1" text-anchor="middle" font-size="25.3" font-family="Liberation Sans, Arial, sans-serif" stroke="#000" stroke-width="0.65">x</text>
<text transform="translate(17.70,324.61) rotate(-90)" text-anchor="middle" font-size="25.3" font-family="Liberation Sans, Arial, sans-serif" stroke="#000" stroke-width="0.65">h(x)</text>
<rect x="1037.05" y="1.25" width="733.65" height="646.75" fill="none" stroke="#000" stroke-width="2" stroke-linejoin="round"/>
<rect x="1036.05" y="0" width="735.65" height="2.40" fill="#000"/>
<line x1="1064.45" y1="649.30" x2="1064.45" y2="662.60" stroke="#000" stroke-width="2.6" stroke-linecap="round"/>
<text x="1064.45" y="700.7" text-anchor="middle" font-size="25.3" font-family="Liberation Sans, Arial, sans-serif" stroke="#000" stroke-width="0.65">0.0</text>
<line x1="1177.63" y1="649.30" x2="1177.63" y2="662.60" stroke="#000" stroke-width="2.6" stroke-linecap="round"/>
<text x="1177.63" y="700.7" text-anchor="middle" font-size="25.3" font-family="Liberation Sans, Arial, sans-serif" stroke="#000" stroke-width="0.65">0.5</text>
<line x1="1290.82" y1="649.30" x2="1290.82" y2="662.60" stroke="#000" stroke-width="2.6" stroke-linecap="round"/>
<text x="1290.82" y="700.7" text-anchor="middle" font-size="25.3" font-family="Liberation Sans, Arial, sans-serif" stroke="#000" stroke-width="0.65">1.0</text>
<line x1="1404.01" y1="649.30" x2="1404.01" y2="662.60" stroke="#000" stroke-width="2.6" stroke-linecap="round"/>
<text x="1404.01" y="700.7" text-anchor="middle" font-size="25.3" font-family="Liberation Sans, Arial, sans-serif" stroke="#000" stroke-width="0.65">1.5</text>
<line x1="1517.19" y1="649.30" x2="1517.19" y2="662.60" stroke="#000" stroke-width="2.6" stroke-linecap="round"/>
<text x="1517.19" y="700.7" text-anchor="middle" font-size="25.3" font-family="Liberation Sans, Arial, sans-serif" stroke="#000" stroke-width="0.65">2.0</text>
<line x1="1630.38" y1="649.30" x2="1630.38" y2="662.60" stroke="#000" stroke-width="2.6" stroke-linecap="round"/>
<text x="1630.38" y="700.7" text-anchor="middle" font-size="25.3" font-family="Liberation Sans, Arial, sans-serif" stroke="#000" stroke-width="0.65">2.5</text>
<line x1="1743.56" y1="649.30" x2="1743.56" y2="662.60" stroke="#000" stroke-width="2.6" stroke-linecap="round"/>
<text x="1743.56" y="700.7" text-anchor="middle" font-size="25.3" font-family="Liberation Sans, Arial, sans-serif" stroke="#000" stroke-width="0.65">3.0</text>
<line x1="1035.75" y1="624.05" x2="1022.45" y2="624.05" stroke="#000" stroke-width="2.6" stroke-linecap="round"/>
<text transform="translate(1003.30,624.05) rotate(-90)" text-anchor="middle" font-size="25.3" font-family="Liberation Sans, Arial, sans-serif" stroke="#000" stroke-width="0.65">0</text>
<line x1="1035.75" y1="504.28" x2="1022.45" y2="504.28" stroke="#000" stroke-width="2.6" stroke-linecap="round"/>
<text transform="translate(1003.30,504.28) rotate(-90)" text-anchor="middle" font-size="25.3" font-family="Liberation Sans, Arial, sans-serif" stroke="#000" stroke-width="0.65">1</text>
<line x1="1035.75" y1="384.51" x2="1022.45" y2="384.51" stroke="#000" stroke-width="2.6" stroke-linecap="round"/>
<text transform="translate(1003.30,384.51) rotate(-90)" text-anchor="middle" font-size="25.3" font-family="Liberation Sans, Arial, sans-serif" stroke="#000" stroke-width="0.65">2</text>
<line x1="1035.75" y1="264.74" x2="1022.45" y2="264.74" stroke="#000" stroke-width="2.6" stroke-linecap="round"/>
<text transform="translate(1003.30,264.74) rotate(-90)" text-anchor="middle" font-size="25.3" font-family="Liberation Sans, Arial, sans-serif" stroke="#000" stroke-width="0.65">3</text>
<line x1="1035.75" y1="144.97" x2="1022.45" y2="144.97" stroke="#000" stroke-width="2.6" stroke-linecap="round"/>
<text transform="translate(1003.30,144.97) rotate(-90)" text-anchor="middle" font-size="25.3" font-family="Liberation Sans, Arial, sans-serif" stroke="#000" stroke-width="0.65">4</text>
<line x1="1035.75" y1="25.20" x2="1022.45" y2="25.20" stroke="#000" stroke-width="2.6" stroke-linecap="round"/>
<text transform="translate(1003.30,25.20) rotate(-90)" text-anchor="middle" font-size="25.3" font-family="Liberation Sans, Arial, sans-serif" stroke="#000" stroke-width="0.65">5</text>
<text x="1403.88" y="759.1" text-anchor="middle" font-size="25.3" font-family="Liberation Sans, Arial, sans-serif" stroke="#000" stroke-width="0.65">x</text>
<text transform="translate(944.00,324.62) rotate(-90)" text-anchor="middle" font-size="25.3" font-family="Liberation Sans, Arial, sans-serif" stroke="#000" stroke-width="0.65">h(x)</text>
<text x="418.14" y="851.60" font-size="40" font-family="Liberation Serif, serif">(</text>
<text x="462.46" y="851.60" font-size="40" text-anchor="end" font-family="Liberation Serif, serif">)</text>
<text transform="translate(440.60,851.60) scale(1.08,0.95)" font-size="37" text-anchor="middle" font-family="Liberation Serif, serif">a</text>
<text x="1343.24" y="851.80" font-size="40" font-family="Liberation Serif, serif">(</text>
<text x="1389.66" y="851.80" font-size="40" text-anchor="end" font-family="Liberation Serif, serif">)</text>
<text transform="translate(1366.80,851.80) scale(1.08,0.95)" font-size="37" text-anchor="middle" font-family="Liberation Serif, serif">b</text>
</svg></body></html>
